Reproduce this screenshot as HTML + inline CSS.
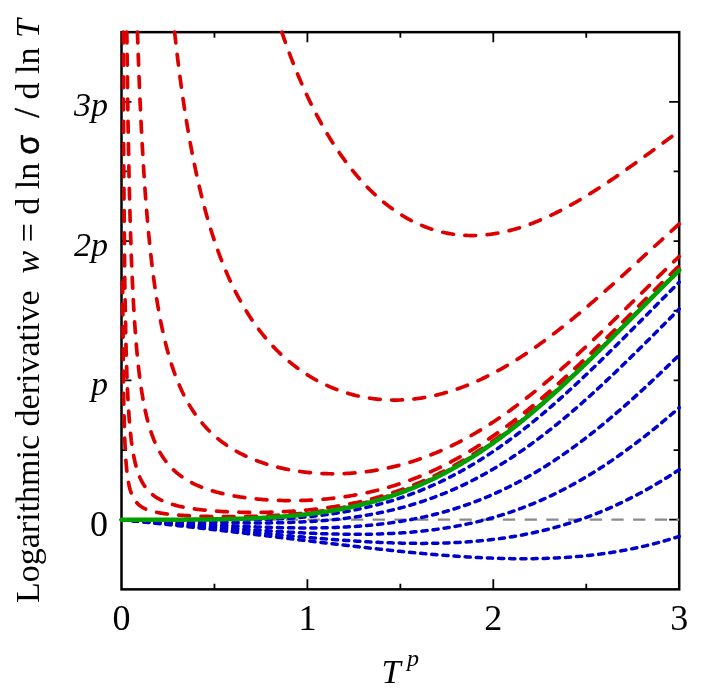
<!DOCTYPE html>
<html><head><meta charset="utf-8"><title>chart</title>
<style>
html,body{margin:0;padding:0;background:#fff;}
svg{display:block;}
text{font-family:"Liberation Serif",serif;fill:#000;}
</style></head><body>
<svg width="706" height="692" viewBox="0 0 706 692">
<rect x="0" y="0" width="706" height="692" fill="#fff"/>
<rect x="121.50" y="32.15" width="557.70" height="557.20" fill="none" stroke="#000" stroke-width="2.50"/>
<path d="M214.45,589.35 v-5.60 M214.45,32.15 v5.60 M307.40,589.35 v-10.00 M307.40,32.15 v10.00 M400.35,589.35 v-5.60 M400.35,32.15 v5.60 M493.30,589.35 v-10.00 M493.30,32.15 v10.00 M586.25,589.35 v-5.60 M586.25,32.15 v5.60 M121.50,519.70 h10.00 M679.20,519.70 h-10.00 M121.50,450.05 h5.60 M679.20,450.05 h-5.60 M121.50,380.40 h10.00 M679.20,380.40 h-5.60 M121.50,310.75 h5.60 M679.20,310.75 h-5.60 M121.50,241.10 h10.00 M679.20,241.10 h-5.60 M121.50,171.45 h5.60 M679.20,171.45 h-5.60 M121.50,101.80 h10.00 M679.20,101.80 h-10.00" stroke="#000" stroke-width="1.80" fill="none"/>
<path d="M121.50,519.70 H679.20" stroke="#8a8a8a" stroke-width="2.3" stroke-dasharray="12.3 9.4" stroke-dashoffset="9.2" fill="none"/>
<path d="M281.85,32.15 L282.71,34.66 L283.80,37.81 L284.89,40.92 L285.98,43.98 L287.07,47.00 L288.16,49.97 L289.25,52.90 L290.33,55.80 L291.42,58.65 L292.51,61.46 L293.60,64.23 L294.69,66.97 L295.78,69.67 L296.87,72.33 L297.96,74.96 L299.05,77.55 L300.14,80.10 L301.23,82.62 L302.32,85.11 L303.41,87.56 L304.50,89.98 L305.58,92.37 L306.67,94.73 L307.76,97.05 L308.85,99.35 L309.94,101.61 L311.03,103.85 L312.12,106.06 L313.21,108.23 L314.30,110.38 L315.39,112.50 L316.48,114.59 L317.57,116.66 L318.66,118.70 L319.74,120.71 L320.83,122.69 L321.92,124.65 L323.01,126.59 L324.10,128.50 L325.19,130.38 L326.28,132.24 L327.37,134.08 L328.46,135.89 L329.55,137.68 L330.64,139.45 L331.73,141.19 L332.82,142.91 L333.91,144.61 L334.99,146.29 L336.08,147.94 L337.17,149.58 L338.26,151.19 L339.35,152.78 L340.44,154.35 L341.53,155.90 L342.62,157.43 L343.71,158.94 L344.80,160.43 L345.89,161.90 L346.98,163.35 L348.07,164.78 L349.15,166.19 L350.24,167.59 L351.33,168.96 L352.42,170.32 L353.51,171.66 L354.60,172.98 L355.69,174.28 L356.78,175.57 L357.87,176.84 L358.96,178.09 L360.05,179.32 L361.14,180.54 L362.23,181.74 L363.32,182.92 L364.40,184.09 L365.49,185.24 L366.58,186.38 L367.67,187.50 L368.76,188.60 L369.85,189.69 L370.94,190.76 L372.03,191.81 L373.12,192.85 L374.21,193.88 L375.30,194.89 L376.39,195.89 L377.48,196.87 L378.56,197.84 L379.65,198.79 L380.74,199.72 L381.83,200.65 L382.92,201.56 L384.01,202.45 L385.10,203.33 L386.19,204.20 L387.28,205.05 L388.37,205.89 L389.46,206.72 L390.55,207.53 L391.64,208.33 L392.73,209.12 L393.81,209.89 L394.90,210.65 L395.99,211.39 L397.08,212.13 L398.17,212.85 L399.26,213.56 L400.35,214.25 L401.44,214.93 L402.53,215.60 L403.62,216.26 L404.71,216.91 L405.80,217.54 L406.89,218.16 L407.97,218.77 L409.06,219.37 L410.15,219.95 L411.24,220.53 L412.33,221.09 L413.42,221.64 L414.51,222.17 L415.60,222.70 L416.69,223.21 L417.78,223.72 L418.87,224.21 L419.96,224.69 L421.05,225.16 L422.14,225.62 L423.22,226.06 L424.31,226.50 L425.40,226.92 L426.49,227.34 L427.58,227.74 L428.67,228.13 L429.76,228.51 L430.85,228.88 L431.94,229.24 L433.03,229.59 L434.12,229.93 L435.21,230.26 L436.30,230.58 L437.38,230.89 L438.47,231.18 L439.56,231.47 L440.65,231.75 L441.74,232.01 L442.83,232.27 L443.92,232.51 L445.01,232.75 L446.10,232.98 L447.19,233.19 L448.28,233.40 L449.37,233.60 L450.46,233.78 L451.55,233.96 L452.63,234.13 L453.72,234.28 L454.81,234.43 L455.90,234.57 L456.99,234.70 L458.08,234.82 L459.17,234.93 L460.26,235.03 L461.35,235.12 L462.44,235.21 L463.53,235.28 L464.62,235.34 L465.71,235.40 L466.79,235.44 L467.88,235.48 L468.97,235.51 L470.06,235.53 L471.15,235.54 L472.24,235.54 L473.33,235.53 L474.42,235.52 L475.51,235.49 L476.60,235.46 L477.69,235.42 L478.78,235.36 L479.87,235.31 L480.96,235.24 L482.04,235.16 L483.13,235.08 L484.22,234.98 L485.31,234.88 L486.40,234.77 L487.49,234.66 L488.58,234.53 L489.67,234.40 L490.76,234.26 L491.85,234.11 L492.94,233.95 L494.03,233.78 L495.12,233.61 L496.20,233.43 L497.29,233.24 L498.38,233.04 L499.47,232.84 L500.56,232.63 L501.65,232.41 L502.74,232.18 L503.83,231.94 L504.92,231.70 L506.01,231.45 L507.10,231.20 L508.19,230.93 L509.28,230.66 L510.37,230.38 L511.45,230.10 L512.54,229.80 L513.63,229.50 L514.72,229.19 L515.81,228.88 L516.90,228.56 L517.99,228.23 L519.08,227.90 L520.17,227.55 L521.26,227.21 L522.35,226.85 L523.44,226.49 L524.53,226.12 L525.61,225.75 L526.70,225.36 L527.79,224.98 L528.88,224.58 L529.97,224.18 L531.06,223.77 L532.15,223.36 L533.24,222.94 L534.33,222.51 L535.42,222.08 L536.51,221.65 L537.60,221.20 L538.69,220.75 L539.78,220.30 L540.86,219.83 L541.95,219.37 L543.04,218.89 L544.13,218.41 L545.22,217.93 L546.31,217.44 L547.40,216.94 L548.49,216.44 L549.58,215.93 L550.67,215.42 L551.76,214.90 L552.85,214.38 L553.94,213.85 L555.02,213.32 L556.11,212.78 L557.20,212.24 L558.29,211.69 L559.38,211.13 L560.47,210.57 L561.56,210.01 L562.65,209.44 L563.74,208.87 L564.83,208.29 L565.92,207.71 L567.01,207.12 L568.10,206.53 L569.18,205.93 L570.27,205.33 L571.36,204.72 L572.45,204.11 L573.54,203.50 L574.63,202.88 L575.72,202.26 L576.81,201.63 L577.90,201.00 L578.99,200.36 L580.08,199.72 L581.17,199.08 L582.26,198.43 L583.35,197.78 L584.43,197.12 L585.52,196.46 L586.61,195.80 L587.70,195.14 L588.79,194.47 L589.88,193.79 L590.97,193.11 L592.06,192.43 L593.15,191.75 L594.24,191.06 L595.33,190.37 L596.42,189.68 L597.51,188.98 L598.59,188.28 L599.68,187.58 L600.77,186.87 L601.86,186.16 L602.95,185.45 L604.04,184.73 L605.13,184.01 L606.22,183.29 L607.31,182.57 L608.40,181.84 L609.49,181.11 L610.58,180.38 L611.67,179.65 L612.76,178.91 L613.84,178.17 L614.93,177.43 L616.02,176.68 L617.11,175.94 L618.20,175.19 L619.29,174.44 L620.38,173.68 L621.47,172.93 L622.56,172.17 L623.65,171.41 L624.74,170.65 L625.83,169.89 L626.92,169.12 L628.00,168.35 L629.09,167.58 L630.18,166.81 L631.27,166.04 L632.36,165.27 L633.45,164.49 L634.54,163.71 L635.63,162.94 L636.72,162.16 L637.81,161.37 L638.90,160.59 L639.99,159.81 L641.08,159.02 L642.17,158.23 L643.25,157.45 L644.34,156.66 L645.43,155.87 L646.52,155.08 L647.61,154.28 L648.70,153.49 L649.79,152.70 L650.88,151.90 L651.97,151.10 L653.06,150.31 L654.15,149.51 L655.24,148.71 L656.33,147.91 L657.41,147.11 L658.50,146.31 L659.59,145.51 L660.68,144.71 L661.77,143.91 L662.86,143.11 L663.95,142.30 L665.04,141.50 L666.13,140.70 L667.22,139.89 L668.31,139.09 L669.40,138.29 L670.49,137.48 L671.58,136.68 L672.66,135.87 L673.75,135.07 L674.84,134.26 L675.93,133.46 L677.02,132.65 L678.11,131.85 L679.20,131.05" stroke="#dd0000" stroke-width="3.70" stroke-linecap="round" stroke-linejoin="round" stroke-dasharray="10.8 11.5" fill="none"/>
<path d="M174.62,32.15 L174.87,34.48 L175.96,44.18 L177.05,53.50 L178.14,62.46 L179.23,71.08 L180.32,79.39 L181.41,87.39 L182.50,95.10 L183.59,102.55 L184.68,109.73 L185.77,116.67 L186.86,123.38 L187.94,129.87 L189.03,136.15 L190.12,142.23 L191.21,148.12 L192.30,153.83 L193.39,159.37 L194.48,164.73 L195.57,169.94 L196.66,175.00 L197.75,179.92 L198.84,184.69 L199.93,189.33 L201.02,193.84 L202.11,198.23 L203.19,202.51 L204.28,206.67 L205.37,210.72 L206.46,214.66 L207.55,218.51 L208.64,222.26 L209.73,225.91 L210.82,229.48 L211.91,232.96 L213.00,236.35 L214.09,239.66 L215.18,242.90 L216.27,246.06 L217.35,249.15 L218.44,252.17 L219.53,255.12 L220.62,258.00 L221.71,260.82 L222.80,263.58 L223.89,266.27 L224.98,268.91 L226.07,271.50 L227.16,274.03 L228.25,276.50 L229.34,278.93 L230.43,281.31 L231.52,283.63 L232.60,285.91 L233.69,288.15 L234.78,290.34 L235.87,292.49 L236.96,294.59 L238.05,296.65 L239.14,298.68 L240.23,300.67 L241.32,302.61 L242.41,304.53 L243.50,306.40 L244.59,308.24 L245.68,310.05 L246.76,311.82 L247.85,313.57 L248.94,315.28 L250.03,316.96 L251.12,318.61 L252.21,320.23 L253.30,321.82 L254.39,323.38 L255.48,324.92 L256.57,326.43 L257.66,327.91 L258.75,329.37 L259.84,330.80 L260.93,332.21 L262.01,333.59 L263.10,334.95 L264.19,336.29 L265.28,337.61 L266.37,338.90 L267.46,340.17 L268.55,341.42 L269.64,342.65 L270.73,343.86 L271.82,345.05 L272.91,346.22 L274.00,347.37 L275.09,348.51 L276.17,349.62 L277.26,350.72 L278.35,351.79 L279.44,352.85 L280.53,353.90 L281.62,354.92 L282.71,355.93 L283.80,356.93 L284.89,357.90 L285.98,358.86 L287.07,359.81 L288.16,360.74 L289.25,361.65 L290.33,362.55 L291.42,363.44 L292.51,364.31 L293.60,365.17 L294.69,366.01 L295.78,366.84 L296.87,367.66 L297.96,368.46 L299.05,369.25 L300.14,370.03 L301.23,370.79 L302.32,371.54 L303.41,372.28 L304.50,373.01 L305.58,373.72 L306.67,374.42 L307.76,375.11 L308.85,375.79 L309.94,376.46 L311.03,377.11 L312.12,377.76 L313.21,378.39 L314.30,379.01 L315.39,379.62 L316.48,380.22 L317.57,380.81 L318.66,381.39 L319.74,381.96 L320.83,382.52 L321.92,383.07 L323.01,383.60 L324.10,384.13 L325.19,384.65 L326.28,385.16 L327.37,385.66 L328.46,386.14 L329.55,386.62 L330.64,387.09 L331.73,387.55 L332.82,388.00 L333.91,388.45 L334.99,388.88 L336.08,389.30 L337.17,389.72 L338.26,390.12 L339.35,390.52 L340.44,390.90 L341.53,391.28 L342.62,391.65 L343.71,392.01 L344.80,392.37 L345.89,392.71 L346.98,393.05 L348.07,393.37 L349.15,393.69 L350.24,394.00 L351.33,394.31 L352.42,394.60 L353.51,394.89 L354.60,395.17 L355.69,395.44 L356.78,395.70 L357.87,395.95 L358.96,396.20 L360.05,396.43 L361.14,396.67 L362.23,396.89 L363.32,397.10 L364.40,397.31 L365.49,397.51 L366.58,397.70 L367.67,397.88 L368.76,398.06 L369.85,398.23 L370.94,398.39 L372.03,398.54 L373.12,398.69 L374.21,398.83 L375.30,398.96 L376.39,399.08 L377.48,399.20 L378.56,399.31 L379.65,399.41 L380.74,399.50 L381.83,399.59 L382.92,399.67 L384.01,399.74 L385.10,399.81 L386.19,399.87 L387.28,399.92 L388.37,399.96 L389.46,400.00 L390.55,400.03 L391.64,400.05 L392.73,400.07 L393.81,400.08 L394.90,400.08 L395.99,400.08 L397.08,400.06 L398.17,400.04 L399.26,400.02 L400.35,399.98 L401.44,399.94 L402.53,399.90 L403.62,399.84 L404.71,399.78 L405.80,399.72 L406.89,399.64 L407.97,399.56 L409.06,399.47 L410.15,399.38 L411.24,399.28 L412.33,399.17 L413.42,399.05 L414.51,398.93 L415.60,398.80 L416.69,398.67 L417.78,398.53 L418.87,398.38 L419.96,398.22 L421.05,398.06 L422.14,397.89 L423.22,397.72 L424.31,397.53 L425.40,397.35 L426.49,397.15 L427.58,396.95 L428.67,396.74 L429.76,396.53 L430.85,396.31 L431.94,396.08 L433.03,395.84 L434.12,395.60 L435.21,395.36 L436.30,395.10 L437.38,394.84 L438.47,394.58 L439.56,394.30 L440.65,394.02 L441.74,393.74 L442.83,393.45 L443.92,393.15 L445.01,392.84 L446.10,392.53 L447.19,392.22 L448.28,391.89 L449.37,391.56 L450.46,391.23 L451.55,390.88 L452.63,390.53 L453.72,390.18 L454.81,389.82 L455.90,389.45 L456.99,389.08 L458.08,388.70 L459.17,388.31 L460.26,387.92 L461.35,387.52 L462.44,387.12 L463.53,386.70 L464.62,386.29 L465.71,385.87 L466.79,385.44 L467.88,385.00 L468.97,384.56 L470.06,384.11 L471.15,383.66 L472.24,383.20 L473.33,382.74 L474.42,382.27 L475.51,381.79 L476.60,381.31 L477.69,380.82 L478.78,380.33 L479.87,379.83 L480.96,379.32 L482.04,378.81 L483.13,378.29 L484.22,377.77 L485.31,377.24 L486.40,376.71 L487.49,376.17 L488.58,375.62 L489.67,375.07 L490.76,374.52 L491.85,373.95 L492.94,373.39 L494.03,372.81 L495.12,372.23 L496.20,371.65 L497.29,371.06 L498.38,370.46 L499.47,369.86 L500.56,369.26 L501.65,368.65 L502.74,368.03 L503.83,367.41 L504.92,366.78 L506.01,366.15 L507.10,365.51 L508.19,364.87 L509.28,364.22 L510.37,363.57 L511.45,362.91 L512.54,362.25 L513.63,361.58 L514.72,360.91 L515.81,360.23 L516.90,359.54 L517.99,358.86 L519.08,358.16 L520.17,357.47 L521.26,356.76 L522.35,356.06 L523.44,355.34 L524.53,354.63 L525.61,353.91 L526.70,353.18 L527.79,352.45 L528.88,351.71 L529.97,350.97 L531.06,350.23 L532.15,349.48 L533.24,348.73 L534.33,347.97 L535.42,347.21 L536.51,346.44 L537.60,345.67 L538.69,344.90 L539.78,344.12 L540.86,343.33 L541.95,342.55 L543.04,341.75 L544.13,340.96 L545.22,340.16 L546.31,339.36 L547.40,338.55 L548.49,337.74 L549.58,336.92 L550.67,336.10 L551.76,335.28 L552.85,334.45 L553.94,333.62 L555.02,332.79 L556.11,331.95 L557.20,331.10 L558.29,330.26 L559.38,329.41 L560.47,328.56 L561.56,327.70 L562.65,326.84 L563.74,325.98 L564.83,325.11 L565.92,324.24 L567.01,323.37 L568.10,322.50 L569.18,321.62 L570.27,320.74 L571.36,319.85 L572.45,318.96 L573.54,318.07 L574.63,317.18 L575.72,316.28 L576.81,315.38 L577.90,314.48 L578.99,313.57 L580.08,312.66 L581.17,311.75 L582.26,310.84 L583.35,309.92 L584.43,309.00 L585.52,308.08 L586.61,307.15 L587.70,306.23 L588.79,305.30 L589.88,304.37 L590.97,303.43 L592.06,302.50 L593.15,301.56 L594.24,300.62 L595.33,299.68 L596.42,298.73 L597.51,297.79 L598.59,296.84 L599.68,295.89 L600.77,294.93 L601.86,293.98 L602.95,293.02 L604.04,292.06 L605.13,291.10 L606.22,290.14 L607.31,289.18 L608.40,288.21 L609.49,287.25 L610.58,286.28 L611.67,285.31 L612.76,284.34 L613.84,283.36 L614.93,282.39 L616.02,281.41 L617.11,280.44 L618.20,279.46 L619.29,278.48 L620.38,277.50 L621.47,276.52 L622.56,275.53 L623.65,274.55 L624.74,273.57 L625.83,272.58 L626.92,271.59 L628.00,270.61 L629.09,269.62 L630.18,268.63 L631.27,267.64 L632.36,266.65 L633.45,265.66 L634.54,264.66 L635.63,263.67 L636.72,262.68 L637.81,261.69 L638.90,260.69 L639.99,259.70 L641.08,258.70 L642.17,257.71 L643.25,256.71 L644.34,255.71 L645.43,254.72 L646.52,253.72 L647.61,252.73 L648.70,251.73 L649.79,250.73 L650.88,249.73 L651.97,248.74 L653.06,247.74 L654.15,246.74 L655.24,245.75 L656.33,244.75 L657.41,243.75 L658.50,242.76 L659.59,241.76 L660.68,240.77 L661.77,239.77 L662.86,238.78 L663.95,237.78 L665.04,236.79 L666.13,235.79 L667.22,234.80 L668.31,233.81 L669.40,232.81 L670.49,231.82 L671.58,230.83 L672.66,229.84 L673.75,228.85 L674.84,227.86 L675.93,226.87 L677.02,225.88 L678.11,224.90 L679.20,223.91" stroke="#dd0000" stroke-width="3.70" stroke-linecap="round" stroke-linejoin="round" stroke-dasharray="10.8 11.5" fill="none"/>
<path d="M137.45,32.15 L137.84,44.22 L138.93,73.94 L140.02,100.16 L141.11,123.47 L142.20,144.32 L143.29,163.09 L144.37,180.07 L145.46,195.51 L146.55,209.60 L147.64,222.52 L148.73,234.41 L149.82,245.38 L150.91,255.54 L152.00,264.98 L153.09,273.76 L154.18,281.96 L155.27,289.62 L156.36,296.81 L157.45,303.57 L158.53,309.92 L159.62,315.91 L160.71,321.57 L161.80,326.93 L162.89,332.00 L163.98,336.81 L165.07,341.38 L166.16,345.73 L167.25,349.87 L168.34,353.81 L169.43,357.58 L170.52,361.18 L171.61,364.62 L172.70,367.92 L173.78,371.08 L174.87,374.11 L175.96,377.02 L177.05,379.81 L178.14,382.50 L179.23,385.08 L180.32,387.57 L181.41,389.96 L182.50,392.28 L183.59,394.51 L184.68,396.66 L185.77,398.74 L186.86,400.75 L187.94,402.69 L189.03,404.57 L190.12,406.39 L191.21,408.15 L192.30,409.86 L193.39,411.51 L194.48,413.12 L195.57,414.67 L196.66,416.19 L197.75,417.65 L198.84,419.08 L199.93,420.47 L201.02,421.81 L202.11,423.12 L203.19,424.40 L204.28,425.64 L205.37,426.84 L206.46,428.02 L207.55,429.16 L208.64,430.28 L209.73,431.37 L210.82,432.43 L211.91,433.46 L213.00,434.47 L214.09,435.45 L215.18,436.41 L216.27,437.35 L217.35,438.26 L218.44,439.15 L219.53,440.02 L220.62,440.87 L221.71,441.71 L222.80,442.52 L223.89,443.31 L224.98,444.09 L226.07,444.85 L227.16,445.59 L228.25,446.32 L229.34,447.03 L230.43,447.72 L231.52,448.40 L232.60,449.07 L233.69,449.72 L234.78,450.35 L235.87,450.98 L236.96,451.59 L238.05,452.18 L239.14,452.77 L240.23,453.34 L241.32,453.90 L242.41,454.45 L243.50,454.99 L244.59,455.51 L245.68,456.03 L246.76,456.53 L247.85,457.03 L248.94,457.51 L250.03,457.99 L251.12,458.45 L252.21,458.91 L253.30,459.35 L254.39,459.79 L255.48,460.22 L256.57,460.63 L257.66,461.04 L258.75,461.45 L259.84,461.84 L260.93,462.22 L262.01,462.60 L263.10,462.97 L264.19,463.33 L265.28,463.68 L266.37,464.03 L267.46,464.37 L268.55,464.70 L269.64,465.02 L270.73,465.34 L271.82,465.65 L272.91,465.95 L274.00,466.24 L275.09,466.53 L276.17,466.82 L277.26,467.09 L278.35,467.36 L279.44,467.62 L280.53,467.88 L281.62,468.13 L282.71,468.38 L283.80,468.61 L284.89,468.85 L285.98,469.07 L287.07,469.29 L288.16,469.51 L289.25,469.72 L290.33,469.92 L291.42,470.12 L292.51,470.31 L293.60,470.50 L294.69,470.68 L295.78,470.85 L296.87,471.02 L297.96,471.19 L299.05,471.35 L300.14,471.50 L301.23,471.65 L302.32,471.79 L303.41,471.93 L304.50,472.06 L305.58,472.19 L306.67,472.31 L307.76,472.43 L308.85,472.54 L309.94,472.65 L311.03,472.75 L312.12,472.85 L313.21,472.95 L314.30,473.03 L315.39,473.12 L316.48,473.19 L317.57,473.27 L318.66,473.33 L319.74,473.40 L320.83,473.46 L321.92,473.51 L323.01,473.56 L324.10,473.60 L325.19,473.64 L326.28,473.68 L327.37,473.71 L328.46,473.73 L329.55,473.75 L330.64,473.77 L331.73,473.78 L332.82,473.79 L333.91,473.79 L334.99,473.78 L336.08,473.78 L337.17,473.76 L338.26,473.75 L339.35,473.73 L340.44,473.70 L341.53,473.67 L342.62,473.63 L343.71,473.59 L344.80,473.55 L345.89,473.50 L346.98,473.44 L348.07,473.38 L349.15,473.32 L350.24,473.25 L351.33,473.18 L352.42,473.10 L353.51,473.02 L354.60,472.93 L355.69,472.84 L356.78,472.74 L357.87,472.64 L358.96,472.53 L360.05,472.42 L361.14,472.31 L362.23,472.19 L363.32,472.06 L364.40,471.94 L365.49,471.80 L366.58,471.66 L367.67,471.52 L368.76,471.37 L369.85,471.22 L370.94,471.06 L372.03,470.90 L373.12,470.73 L374.21,470.56 L375.30,470.38 L376.39,470.20 L377.48,470.02 L378.56,469.82 L379.65,469.63 L380.74,469.43 L381.83,469.22 L382.92,469.01 L384.01,468.80 L385.10,468.58 L386.19,468.35 L387.28,468.12 L388.37,467.89 L389.46,467.65 L390.55,467.41 L391.64,467.16 L392.73,466.90 L393.81,466.65 L394.90,466.38 L395.99,466.11 L397.08,465.84 L398.17,465.56 L399.26,465.28 L400.35,464.99 L401.44,464.70 L402.53,464.40 L403.62,464.10 L404.71,463.79 L405.80,463.48 L406.89,463.16 L407.97,462.84 L409.06,462.51 L410.15,462.18 L411.24,461.84 L412.33,461.50 L413.42,461.15 L414.51,460.80 L415.60,460.44 L416.69,460.08 L417.78,459.71 L418.87,459.34 L419.96,458.96 L421.05,458.58 L422.14,458.19 L423.22,457.79 L424.31,457.40 L425.40,456.99 L426.49,456.59 L427.58,456.17 L428.67,455.76 L429.76,455.33 L430.85,454.90 L431.94,454.47 L433.03,454.03 L434.12,453.59 L435.21,453.14 L436.30,452.69 L437.38,452.23 L438.47,451.76 L439.56,451.30 L440.65,450.82 L441.74,450.34 L442.83,449.86 L443.92,449.37 L445.01,448.88 L446.10,448.38 L447.19,447.87 L448.28,447.36 L449.37,446.85 L450.46,446.33 L451.55,445.81 L452.63,445.28 L453.72,444.74 L454.81,444.20 L455.90,443.66 L456.99,443.11 L458.08,442.55 L459.17,441.99 L460.26,441.43 L461.35,440.86 L462.44,440.28 L463.53,439.70 L464.62,439.12 L465.71,438.53 L466.79,437.93 L467.88,437.33 L468.97,436.73 L470.06,436.12 L471.15,435.50 L472.24,434.89 L473.33,434.26 L474.42,433.63 L475.51,433.00 L476.60,432.36 L477.69,431.71 L478.78,431.06 L479.87,430.41 L480.96,429.75 L482.04,429.09 L483.13,428.42 L484.22,427.75 L485.31,427.07 L486.40,426.39 L487.49,425.70 L488.58,425.00 L489.67,424.31 L490.76,423.61 L491.85,422.90 L492.94,422.19 L494.03,421.47 L495.12,420.75 L496.20,420.03 L497.29,419.30 L498.38,418.56 L499.47,417.82 L500.56,417.08 L501.65,416.33 L502.74,415.58 L503.83,414.82 L504.92,414.06 L506.01,413.29 L507.10,412.52 L508.19,411.75 L509.28,410.97 L510.37,410.18 L511.45,409.40 L512.54,408.60 L513.63,407.81 L514.72,407.00 L515.81,406.20 L516.90,405.39 L517.99,404.58 L519.08,403.76 L520.17,402.94 L521.26,402.11 L522.35,401.28 L523.44,400.44 L524.53,399.61 L525.61,398.76 L526.70,397.92 L527.79,397.07 L528.88,396.21 L529.97,395.35 L531.06,394.49 L532.15,393.62 L533.24,392.75 L534.33,391.88 L535.42,391.00 L536.51,390.12 L537.60,389.24 L538.69,388.35 L539.78,387.46 L540.86,386.56 L541.95,385.66 L543.04,384.76 L544.13,383.85 L545.22,382.94 L546.31,382.03 L547.40,381.11 L548.49,380.19 L549.58,379.27 L550.67,378.34 L551.76,377.41 L552.85,376.47 L553.94,375.54 L555.02,374.60 L556.11,373.66 L557.20,372.71 L558.29,371.76 L559.38,370.81 L560.47,369.85 L561.56,368.89 L562.65,367.93 L563.74,366.97 L564.83,366.00 L565.92,365.03 L567.01,364.06 L568.10,363.09 L569.18,362.11 L570.27,361.13 L571.36,360.14 L572.45,359.16 L573.54,358.17 L574.63,357.18 L575.72,356.19 L576.81,355.19 L577.90,354.19 L578.99,353.19 L580.08,352.19 L581.17,351.19 L582.26,350.18 L583.35,349.17 L584.43,348.16 L585.52,347.14 L586.61,346.13 L587.70,345.11 L588.79,344.09 L589.88,343.07 L590.97,342.05 L592.06,341.02 L593.15,339.99 L594.24,338.96 L595.33,337.93 L596.42,336.90 L597.51,335.87 L598.59,334.83 L599.68,333.79 L600.77,332.75 L601.86,331.71 L602.95,330.67 L604.04,329.63 L605.13,328.58 L606.22,327.54 L607.31,326.49 L608.40,325.44 L609.49,324.39 L610.58,323.34 L611.67,322.29 L612.76,321.24 L613.84,320.18 L614.93,319.13 L616.02,318.07 L617.11,317.01 L618.20,315.95 L619.29,314.89 L620.38,313.83 L621.47,312.77 L622.56,311.71 L623.65,310.65 L624.74,309.59 L625.83,308.52 L626.92,307.46 L628.00,306.39 L629.09,305.33 L630.18,304.26 L631.27,303.20 L632.36,302.13 L633.45,301.06 L634.54,300.00 L635.63,298.93 L636.72,297.86 L637.81,296.79 L638.90,295.73 L639.99,294.66 L641.08,293.59 L642.17,292.52 L643.25,291.45 L644.34,290.38 L645.43,289.32 L646.52,288.25 L647.61,287.18 L648.70,286.11 L649.79,285.04 L650.88,283.98 L651.97,282.91 L653.06,281.84 L654.15,280.78 L655.24,279.71 L656.33,278.64 L657.41,277.58 L658.50,276.51 L659.59,275.45 L660.68,274.39 L661.77,273.32 L662.86,272.26 L663.95,271.20 L665.04,270.14 L666.13,269.08 L667.22,268.02 L668.31,266.96 L669.40,265.90 L670.49,264.84 L671.58,263.78 L672.66,262.73 L673.75,261.67 L674.84,260.62 L675.93,259.57 L677.02,258.52 L678.11,257.46 L679.20,256.42" stroke="#dd0000" stroke-width="3.70" stroke-linecap="round" stroke-linejoin="round" stroke-dasharray="10.8 11.5" fill="none"/>
<path d="M126.84,32.15 L126.95,44.22 L128.04,123.47 L129.12,180.07 L130.21,222.53 L131.30,255.55 L132.39,281.96 L133.48,303.57 L134.57,321.58 L135.66,336.82 L136.75,349.89 L137.84,361.21 L138.93,371.11 L140.02,379.85 L141.11,387.62 L142.20,394.57 L143.29,400.83 L144.37,406.49 L145.46,411.64 L146.55,416.33 L147.64,420.64 L148.73,424.60 L149.82,428.26 L150.91,431.65 L152.00,434.79 L153.09,437.72 L154.18,440.45 L155.27,443.00 L156.36,445.40 L157.45,447.65 L158.53,449.77 L159.62,451.76 L160.71,453.65 L161.80,455.43 L162.89,457.12 L163.98,458.73 L165.07,460.25 L166.16,461.70 L167.25,463.08 L168.34,464.39 L169.43,465.64 L170.52,466.84 L171.61,467.99 L172.70,469.09 L173.78,470.14 L174.87,471.14 L175.96,472.11 L177.05,473.04 L178.14,473.93 L179.23,474.79 L180.32,475.62 L181.41,476.41 L182.50,477.18 L183.59,477.92 L184.68,478.64 L185.77,479.33 L186.86,479.99 L187.94,480.64 L189.03,481.26 L190.12,481.86 L191.21,482.44 L192.30,483.01 L193.39,483.55 L194.48,484.08 L195.57,484.60 L196.66,485.10 L197.75,485.58 L198.84,486.05 L199.93,486.50 L201.02,486.95 L202.11,487.38 L203.19,487.79 L204.28,488.20 L205.37,488.59 L206.46,488.98 L207.55,489.35 L208.64,489.71 L209.73,490.07 L210.82,490.41 L211.91,490.75 L213.00,491.07 L214.09,491.39 L215.18,491.70 L216.27,492.00 L217.35,492.29 L218.44,492.58 L219.53,492.85 L220.62,493.12 L221.71,493.39 L222.80,493.65 L223.89,493.90 L224.98,494.14 L226.07,494.38 L227.16,494.61 L228.25,494.84 L229.34,495.06 L230.43,495.27 L231.52,495.48 L232.60,495.68 L233.69,495.88 L234.78,496.07 L235.87,496.26 L236.96,496.44 L238.05,496.62 L239.14,496.80 L240.23,496.96 L241.32,497.13 L242.41,497.29 L243.50,497.44 L244.59,497.59 L245.68,497.74 L246.76,497.88 L247.85,498.02 L248.94,498.15 L250.03,498.28 L251.12,498.41 L252.21,498.53 L253.30,498.65 L254.39,498.76 L255.48,498.87 L256.57,498.98 L257.66,499.08 L258.75,499.18 L259.84,499.28 L260.93,499.37 L262.01,499.46 L263.10,499.54 L264.19,499.62 L265.28,499.70 L266.37,499.78 L267.46,499.85 L268.55,499.92 L269.64,499.98 L270.73,500.04 L271.82,500.10 L272.91,500.16 L274.00,500.21 L275.09,500.26 L276.17,500.30 L277.26,500.34 L278.35,500.38 L279.44,500.42 L280.53,500.45 L281.62,500.48 L282.71,500.50 L283.80,500.53 L284.89,500.55 L285.98,500.56 L287.07,500.58 L288.16,500.59 L289.25,500.59 L290.33,500.60 L291.42,500.60 L292.51,500.60 L293.60,500.59 L294.69,500.58 L295.78,500.57 L296.87,500.56 L297.96,500.54 L299.05,500.52 L300.14,500.49 L301.23,500.47 L302.32,500.44 L303.41,500.40 L304.50,500.37 L305.58,500.33 L306.67,500.28 L307.76,500.24 L308.85,500.19 L309.94,500.14 L311.03,500.08 L312.12,500.02 L313.21,499.96 L314.30,499.90 L315.39,499.83 L316.48,499.76 L317.57,499.68 L318.66,499.60 L319.74,499.52 L320.83,499.44 L321.92,499.35 L323.01,499.26 L324.10,499.17 L325.19,499.07 L326.28,498.97 L327.37,498.87 L328.46,498.76 L329.55,498.65 L330.64,498.53 L331.73,498.42 L332.82,498.30 L333.91,498.17 L334.99,498.04 L336.08,497.91 L337.17,497.78 L338.26,497.64 L339.35,497.50 L340.44,497.35 L341.53,497.21 L342.62,497.05 L343.71,496.90 L344.80,496.74 L345.89,496.58 L346.98,496.41 L348.07,496.24 L349.15,496.07 L350.24,495.89 L351.33,495.71 L352.42,495.53 L353.51,495.34 L354.60,495.15 L355.69,494.95 L356.78,494.75 L357.87,494.55 L358.96,494.35 L360.05,494.14 L361.14,493.92 L362.23,493.70 L363.32,493.48 L364.40,493.26 L365.49,493.03 L366.58,492.80 L367.67,492.56 L368.76,492.32 L369.85,492.07 L370.94,491.82 L372.03,491.57 L373.12,491.31 L374.21,491.05 L375.30,490.79 L376.39,490.52 L377.48,490.25 L378.56,489.97 L379.65,489.69 L380.74,489.41 L381.83,489.12 L382.92,488.82 L384.01,488.53 L385.10,488.23 L386.19,487.92 L387.28,487.61 L388.37,487.30 L389.46,486.98 L390.55,486.66 L391.64,486.33 L392.73,486.00 L393.81,485.66 L394.90,485.33 L395.99,484.98 L397.08,484.63 L398.17,484.28 L399.26,483.93 L400.35,483.56 L401.44,483.20 L402.53,482.83 L403.62,482.46 L404.71,482.08 L405.80,481.69 L406.89,481.31 L407.97,480.92 L409.06,480.52 L410.15,480.12 L411.24,479.71 L412.33,479.30 L413.42,478.89 L414.51,478.47 L415.60,478.05 L416.69,477.62 L417.78,477.19 L418.87,476.75 L419.96,476.31 L421.05,475.87 L422.14,475.41 L423.22,474.96 L424.31,474.50 L425.40,474.04 L426.49,473.57 L427.58,473.09 L428.67,472.62 L429.76,472.13 L430.85,471.65 L431.94,471.15 L433.03,470.66 L434.12,470.16 L435.21,469.65 L436.30,469.14 L437.38,468.62 L438.47,468.10 L439.56,467.58 L440.65,467.05 L441.74,466.52 L442.83,465.98 L443.92,465.43 L445.01,464.89 L446.10,464.33 L447.19,463.78 L448.28,463.21 L449.37,462.65 L450.46,462.07 L451.55,461.50 L452.63,460.92 L453.72,460.33 L454.81,459.74 L455.90,459.15 L456.99,458.55 L458.08,457.94 L459.17,457.33 L460.26,456.72 L461.35,456.10 L462.44,455.47 L463.53,454.85 L464.62,454.21 L465.71,453.58 L466.79,452.93 L467.88,452.29 L468.97,451.63 L470.06,450.98 L471.15,450.32 L472.24,449.65 L473.33,448.98 L474.42,448.31 L475.51,447.63 L476.60,446.94 L477.69,446.25 L478.78,445.56 L479.87,444.86 L480.96,444.16 L482.04,443.45 L483.13,442.74 L484.22,442.02 L485.31,441.30 L486.40,440.58 L487.49,439.85 L488.58,439.11 L489.67,438.38 L490.76,437.63 L491.85,436.88 L492.94,436.13 L494.03,435.37 L495.12,434.61 L496.20,433.85 L497.29,433.08 L498.38,432.30 L499.47,431.53 L500.56,430.74 L501.65,429.95 L502.74,429.16 L503.83,428.37 L504.92,427.57 L506.01,426.76 L507.10,425.95 L508.19,425.14 L509.28,424.32 L510.37,423.50 L511.45,422.68 L512.54,421.85 L513.63,421.01 L514.72,420.18 L515.81,419.33 L516.90,418.49 L517.99,417.64 L519.08,416.78 L520.17,415.93 L521.26,415.06 L522.35,414.20 L523.44,413.33 L524.53,412.46 L525.61,411.58 L526.70,410.70 L527.79,409.81 L528.88,408.92 L529.97,408.03 L531.06,407.14 L532.15,406.24 L533.24,405.33 L534.33,404.43 L535.42,403.52 L536.51,402.60 L537.60,401.68 L538.69,400.76 L539.78,399.84 L540.86,398.91 L541.95,397.98 L543.04,397.04 L544.13,396.10 L545.22,395.16 L546.31,394.22 L547.40,393.27 L548.49,392.32 L549.58,391.36 L550.67,390.41 L551.76,389.45 L552.85,388.48 L553.94,387.51 L555.02,386.55 L556.11,385.57 L557.20,384.60 L558.29,383.62 L559.38,382.64 L560.47,381.65 L561.56,380.66 L562.65,379.67 L563.74,378.68 L564.83,377.69 L565.92,376.69 L567.01,375.69 L568.10,374.68 L569.18,373.68 L570.27,372.67 L571.36,371.66 L572.45,370.64 L573.54,369.63 L574.63,368.61 L575.72,367.59 L576.81,366.57 L577.90,365.54 L578.99,364.51 L580.08,363.48 L581.17,362.45 L582.26,361.42 L583.35,360.38 L584.43,359.35 L585.52,358.31 L586.61,357.26 L587.70,356.22 L588.79,355.17 L589.88,354.13 L590.97,353.08 L592.06,352.03 L593.15,350.97 L594.24,349.92 L595.33,348.86 L596.42,347.81 L597.51,346.75 L598.59,345.69 L599.68,344.62 L600.77,343.56 L601.86,342.50 L602.95,341.43 L604.04,340.36 L605.13,339.29 L606.22,338.22 L607.31,337.15 L608.40,336.08 L609.49,335.01 L610.58,333.93 L611.67,332.85 L612.76,331.78 L613.84,330.70 L614.93,329.62 L616.02,328.54 L617.11,327.46 L618.20,326.38 L619.29,325.30 L620.38,324.22 L621.47,323.13 L622.56,322.05 L623.65,320.96 L624.74,319.88 L625.83,318.79 L626.92,317.71 L628.00,316.62 L629.09,315.53 L630.18,314.45 L631.27,313.36 L632.36,312.27 L633.45,311.18 L634.54,310.09 L635.63,309.00 L636.72,307.91 L637.81,306.83 L638.90,305.74 L639.99,304.65 L641.08,303.56 L642.17,302.47 L643.25,301.38 L644.34,300.29 L645.43,299.20 L646.52,298.11 L647.61,297.02 L648.70,295.94 L649.79,294.85 L650.88,293.76 L651.97,292.67 L653.06,291.59 L654.15,290.50 L655.24,289.41 L656.33,288.33 L657.41,287.24 L658.50,286.16 L659.59,285.07 L660.68,283.99 L661.77,282.91 L662.86,281.83 L663.95,280.75 L665.04,279.66 L666.13,278.59 L667.22,277.51 L668.31,276.43 L669.40,275.35 L670.49,274.28 L671.58,273.20 L672.66,272.13 L673.75,271.05 L674.84,269.98 L675.93,268.91 L677.02,267.84 L678.11,266.77 L679.20,265.70" stroke="#dd0000" stroke-width="3.70" stroke-linecap="round" stroke-linejoin="round" stroke-dasharray="10.8 11.5" fill="none"/>
<path d="M123.28,32.15 L123.68,163.09 L124.77,281.96 L125.86,341.40 L126.95,377.06 L128.04,400.83 L129.12,417.81 L130.21,430.55 L131.30,440.45 L132.39,448.38 L133.48,454.86 L134.57,460.27 L135.66,464.84 L136.75,468.76 L137.84,472.15 L138.93,475.12 L140.02,477.75 L141.11,480.08 L142.20,482.16 L143.29,484.04 L144.37,485.74 L145.46,487.28 L146.55,488.69 L147.64,489.98 L148.73,491.17 L149.82,492.27 L150.91,493.28 L152.00,494.22 L153.09,495.10 L154.18,495.92 L155.27,496.69 L156.36,497.41 L157.45,498.08 L158.53,498.71 L159.62,499.31 L160.71,499.88 L161.80,500.41 L162.89,500.92 L163.98,501.40 L165.07,501.85 L166.16,502.29 L167.25,502.70 L168.34,503.09 L169.43,503.47 L170.52,503.82 L171.61,504.17 L172.70,504.49 L173.78,504.81 L174.87,505.11 L175.96,505.39 L177.05,505.67 L178.14,505.94 L179.23,506.19 L180.32,506.44 L181.41,506.67 L182.50,506.90 L183.59,507.12 L184.68,507.33 L185.77,507.53 L186.86,507.73 L187.94,507.92 L189.03,508.10 L190.12,508.28 L191.21,508.45 L192.30,508.61 L193.39,508.77 L194.48,508.92 L195.57,509.07 L196.66,509.21 L197.75,509.35 L198.84,509.49 L199.93,509.62 L201.02,509.74 L202.11,509.87 L203.19,509.98 L204.28,510.10 L205.37,510.21 L206.46,510.31 L207.55,510.42 L208.64,510.52 L209.73,510.61 L210.82,510.71 L211.91,510.80 L213.00,510.88 L214.09,510.97 L215.18,511.05 L216.27,511.13 L217.35,511.20 L218.44,511.27 L219.53,511.34 L220.62,511.41 L221.71,511.48 L222.80,511.54 L223.89,511.60 L224.98,511.66 L226.07,511.71 L227.16,511.77 L228.25,511.82 L229.34,511.87 L230.43,511.91 L231.52,511.96 L232.60,512.00 L233.69,512.04 L234.78,512.07 L235.87,512.11 L236.96,512.14 L238.05,512.17 L239.14,512.20 L240.23,512.23 L241.32,512.26 L242.41,512.28 L243.50,512.30 L244.59,512.32 L245.68,512.34 L246.76,512.35 L247.85,512.36 L248.94,512.38 L250.03,512.39 L251.12,512.39 L252.21,512.40 L253.30,512.40 L254.39,512.40 L255.48,512.40 L256.57,512.40 L257.66,512.40 L258.75,512.39 L259.84,512.38 L260.93,512.37 L262.01,512.36 L263.10,512.34 L264.19,512.33 L265.28,512.31 L266.37,512.29 L267.46,512.27 L268.55,512.24 L269.64,512.22 L270.73,512.19 L271.82,512.16 L272.91,512.13 L274.00,512.09 L275.09,512.06 L276.17,512.02 L277.26,511.98 L278.35,511.94 L279.44,511.89 L280.53,511.85 L281.62,511.80 L282.71,511.75 L283.80,511.69 L284.89,511.64 L285.98,511.58 L287.07,511.52 L288.16,511.46 L289.25,511.40 L290.33,511.33 L291.42,511.27 L292.51,511.20 L293.60,511.12 L294.69,511.05 L295.78,510.97 L296.87,510.89 L297.96,510.81 L299.05,510.73 L300.14,510.64 L301.23,510.55 L302.32,510.46 L303.41,510.37 L304.50,510.27 L305.58,510.17 L306.67,510.07 L307.76,509.97 L308.85,509.86 L309.94,509.76 L311.03,509.65 L312.12,509.53 L313.21,509.42 L314.30,509.30 L315.39,509.18 L316.48,509.05 L317.57,508.93 L318.66,508.80 L319.74,508.67 L320.83,508.53 L321.92,508.40 L323.01,508.26 L324.10,508.11 L325.19,507.97 L326.28,507.82 L327.37,507.67 L328.46,507.52 L329.55,507.36 L330.64,507.20 L331.73,507.04 L332.82,506.87 L333.91,506.71 L334.99,506.53 L336.08,506.36 L337.17,506.18 L338.26,506.00 L339.35,505.82 L340.44,505.63 L341.53,505.44 L342.62,505.25 L343.71,505.06 L344.80,504.86 L345.89,504.66 L346.98,504.45 L348.07,504.24 L349.15,504.03 L350.24,503.82 L351.33,503.60 L352.42,503.38 L353.51,503.15 L354.60,502.93 L355.69,502.69 L356.78,502.46 L357.87,502.22 L358.96,501.98 L360.05,501.73 L361.14,501.49 L362.23,501.23 L363.32,500.98 L364.40,500.72 L365.49,500.46 L366.58,500.19 L367.67,499.92 L368.76,499.65 L369.85,499.37 L370.94,499.09 L372.03,498.81 L373.12,498.52 L374.21,498.23 L375.30,497.93 L376.39,497.63 L377.48,497.33 L378.56,497.02 L379.65,496.71 L380.74,496.40 L381.83,496.08 L382.92,495.76 L384.01,495.43 L385.10,495.10 L386.19,494.77 L387.28,494.43 L388.37,494.09 L389.46,493.74 L390.55,493.39 L391.64,493.04 L392.73,492.68 L393.81,492.32 L394.90,491.96 L395.99,491.59 L397.08,491.21 L398.17,490.83 L399.26,490.45 L400.35,490.06 L401.44,489.67 L402.53,489.28 L403.62,488.88 L404.71,488.48 L405.80,488.07 L406.89,487.66 L407.97,487.24 L409.06,486.82 L410.15,486.40 L411.24,485.97 L412.33,485.54 L413.42,485.10 L414.51,484.66 L415.60,484.21 L416.69,483.76 L417.78,483.31 L418.87,482.85 L419.96,482.38 L421.05,481.92 L422.14,481.44 L423.22,480.97 L424.31,480.49 L425.40,480.00 L426.49,479.51 L427.58,479.02 L428.67,478.52 L429.76,478.01 L430.85,477.51 L431.94,476.99 L433.03,476.48 L434.12,475.95 L435.21,475.43 L436.30,474.90 L437.38,474.36 L438.47,473.82 L439.56,473.28 L440.65,472.73 L441.74,472.18 L442.83,471.62 L443.92,471.06 L445.01,470.49 L446.10,469.92 L447.19,469.34 L448.28,468.76 L449.37,468.17 L450.46,467.58 L451.55,466.99 L452.63,466.39 L453.72,465.79 L454.81,465.18 L455.90,464.57 L456.99,463.95 L458.08,463.33 L459.17,462.70 L460.26,462.07 L461.35,461.43 L462.44,460.79 L463.53,460.15 L464.62,459.50 L465.71,458.84 L466.79,458.18 L467.88,457.52 L468.97,456.85 L470.06,456.18 L471.15,455.50 L472.24,454.82 L473.33,454.13 L474.42,453.44 L475.51,452.75 L476.60,452.05 L477.69,451.34 L478.78,450.63 L479.87,449.92 L480.96,449.20 L482.04,448.48 L483.13,447.75 L484.22,447.02 L485.31,446.29 L486.40,445.55 L487.49,444.80 L488.58,444.05 L489.67,443.30 L490.76,442.54 L491.85,441.78 L492.94,441.01 L494.03,440.24 L495.12,439.47 L496.20,438.69 L497.29,437.90 L498.38,437.11 L499.47,436.32 L500.56,435.52 L501.65,434.72 L502.74,433.92 L503.83,433.11 L504.92,432.29 L506.01,431.48 L507.10,430.65 L508.19,429.83 L509.28,429.00 L510.37,428.16 L511.45,427.33 L512.54,426.48 L513.63,425.64 L514.72,424.79 L515.81,423.93 L516.90,423.07 L517.99,422.21 L519.08,421.34 L520.17,420.47 L521.26,419.60 L522.35,418.72 L523.44,417.84 L524.53,416.95 L525.61,416.06 L526.70,415.17 L527.79,414.27 L528.88,413.37 L529.97,412.47 L531.06,411.56 L532.15,410.65 L533.24,409.74 L534.33,408.82 L535.42,407.89 L536.51,406.97 L537.60,406.04 L538.69,405.11 L539.78,404.17 L540.86,403.23 L541.95,402.29 L543.04,401.34 L544.13,400.39 L545.22,399.44 L546.31,398.49 L547.40,397.53 L548.49,396.56 L549.58,395.60 L550.67,394.63 L551.76,393.66 L552.85,392.68 L553.94,391.71 L555.02,390.73 L556.11,389.74 L557.20,388.76 L558.29,387.77 L559.38,386.78 L560.47,385.78 L561.56,384.78 L562.65,383.78 L563.74,382.78 L564.83,381.77 L565.92,380.77 L567.01,379.76 L568.10,378.74 L569.18,377.73 L570.27,376.71 L571.36,375.69 L572.45,374.66 L573.54,373.64 L574.63,372.61 L575.72,371.58 L576.81,370.55 L577.90,369.51 L578.99,368.48 L580.08,367.44 L581.17,366.40 L582.26,365.35 L583.35,364.31 L584.43,363.26 L585.52,362.21 L586.61,361.16 L587.70,360.11 L588.79,359.05 L589.88,358.00 L590.97,356.94 L592.06,355.88 L593.15,354.82 L594.24,353.75 L595.33,352.69 L596.42,351.62 L597.51,350.56 L598.59,349.49 L599.68,348.42 L600.77,347.34 L601.86,346.27 L602.95,345.19 L604.04,344.12 L605.13,343.04 L606.22,341.96 L607.31,340.88 L608.40,339.80 L609.49,338.72 L610.58,337.64 L611.67,336.55 L612.76,335.47 L613.84,334.38 L614.93,333.30 L616.02,332.21 L617.11,331.12 L618.20,330.03 L619.29,328.94 L620.38,327.85 L621.47,326.76 L622.56,325.67 L623.65,324.57 L624.74,323.48 L625.83,322.39 L626.92,321.29 L628.00,320.20 L629.09,319.10 L630.18,318.01 L631.27,316.91 L632.36,315.82 L633.45,314.72 L634.54,313.63 L635.63,312.53 L636.72,311.43 L637.81,310.34 L638.90,309.24 L639.99,308.14 L641.08,307.05 L642.17,305.95 L643.25,304.85 L644.34,303.76 L645.43,302.66 L646.52,301.57 L647.61,300.47 L648.70,299.37 L649.79,298.28 L650.88,297.18 L651.97,296.09 L653.06,295.00 L654.15,293.90 L655.24,292.81 L656.33,291.72 L657.41,290.63 L658.50,289.53 L659.59,288.44 L660.68,287.35 L661.77,286.26 L662.86,285.18 L663.95,284.09 L665.04,283.00 L666.13,281.91 L667.22,280.83 L668.31,279.74 L669.40,278.66 L670.49,277.58 L671.58,276.50 L672.66,275.41 L673.75,274.33 L674.84,273.26 L675.93,272.18 L677.02,271.10 L678.11,270.03 L679.20,268.95" stroke="#dd0000" stroke-width="3.70" stroke-linecap="round" stroke-linejoin="round" stroke-dasharray="10.8 11.5" fill="none"/>
<path d="M122.59,281.96 L123.68,400.83 L124.77,440.45 L125.86,460.27 L126.95,472.15 L128.04,480.08 L129.12,485.74 L130.21,489.98 L131.30,493.28 L132.39,495.93 L133.48,498.09 L134.57,499.89 L135.66,501.41 L136.75,502.72 L137.84,503.85 L138.93,504.84 L140.02,505.71 L141.11,506.49 L142.20,507.19 L143.29,507.81 L144.37,508.38 L145.46,508.89 L146.55,509.36 L147.64,509.79 L148.73,510.19 L149.82,510.55 L150.91,510.89 L152.00,511.21 L153.09,511.50 L154.18,511.77 L155.27,512.02 L156.36,512.26 L157.45,512.49 L158.53,512.70 L159.62,512.90 L160.71,513.09 L161.80,513.26 L162.89,513.43 L163.98,513.59 L165.07,513.74 L166.16,513.88 L167.25,514.02 L168.34,514.15 L169.43,514.27 L170.52,514.39 L171.61,514.50 L172.70,514.61 L173.78,514.71 L174.87,514.81 L175.96,514.90 L177.05,514.99 L178.14,515.08 L179.23,515.16 L180.32,515.24 L181.41,515.32 L182.50,515.39 L183.59,515.46 L184.68,515.53 L185.77,515.59 L186.86,515.65 L187.94,515.71 L189.03,515.77 L190.12,515.82 L191.21,515.88 L192.30,515.93 L193.39,515.97 L194.48,516.02 L195.57,516.06 L196.66,516.11 L197.75,516.15 L198.84,516.18 L199.93,516.22 L201.02,516.26 L202.11,516.29 L203.19,516.32 L204.28,516.35 L205.37,516.38 L206.46,516.41 L207.55,516.43 L208.64,516.46 L209.73,516.48 L210.82,516.50 L211.91,516.52 L213.00,516.54 L214.09,516.56 L215.18,516.58 L216.27,516.59 L217.35,516.60 L218.44,516.62 L219.53,516.63 L220.62,516.64 L221.71,516.65 L222.80,516.65 L223.89,516.66 L224.98,516.66 L226.07,516.67 L227.16,516.67 L228.25,516.67 L229.34,516.67 L230.43,516.67 L231.52,516.66 L232.60,516.66 L233.69,516.65 L234.78,516.65 L235.87,516.64 L236.96,516.63 L238.05,516.62 L239.14,516.61 L240.23,516.59 L241.32,516.58 L242.41,516.56 L243.50,516.55 L244.59,516.53 L245.68,516.51 L246.76,516.49 L247.85,516.46 L248.94,516.44 L250.03,516.41 L251.12,516.39 L252.21,516.36 L253.30,516.33 L254.39,516.30 L255.48,516.27 L256.57,516.23 L257.66,516.20 L258.75,516.16 L259.84,516.12 L260.93,516.09 L262.01,516.04 L263.10,516.00 L264.19,515.96 L265.28,515.91 L266.37,515.86 L267.46,515.82 L268.55,515.77 L269.64,515.71 L270.73,515.66 L271.82,515.61 L272.91,515.55 L274.00,515.49 L275.09,515.43 L276.17,515.37 L277.26,515.30 L278.35,515.24 L279.44,515.17 L280.53,515.10 L281.62,515.03 L282.71,514.96 L283.80,514.89 L284.89,514.81 L285.98,514.73 L287.07,514.65 L288.16,514.57 L289.25,514.49 L290.33,514.40 L291.42,514.31 L292.51,514.22 L293.60,514.13 L294.69,514.04 L295.78,513.94 L296.87,513.85 L297.96,513.75 L299.05,513.64 L300.14,513.54 L301.23,513.43 L302.32,513.32 L303.41,513.21 L304.50,513.10 L305.58,512.99 L306.67,512.87 L307.76,512.75 L308.85,512.63 L309.94,512.50 L311.03,512.38 L312.12,512.25 L313.21,512.12 L314.30,511.98 L315.39,511.85 L316.48,511.71 L317.57,511.57 L318.66,511.43 L319.74,511.28 L320.83,511.13 L321.92,510.98 L323.01,510.83 L324.10,510.67 L325.19,510.51 L326.28,510.35 L327.37,510.19 L328.46,510.02 L329.55,509.85 L330.64,509.68 L331.73,509.50 L332.82,509.32 L333.91,509.14 L334.99,508.96 L336.08,508.77 L337.17,508.58 L338.26,508.39 L339.35,508.20 L340.44,508.00 L341.53,507.80 L342.62,507.59 L343.71,507.39 L344.80,507.18 L345.89,506.96 L346.98,506.75 L348.07,506.53 L349.15,506.31 L350.24,506.08 L351.33,505.85 L352.42,505.62 L353.51,505.39 L354.60,505.15 L355.69,504.91 L356.78,504.66 L357.87,504.41 L358.96,504.16 L360.05,503.91 L361.14,503.65 L362.23,503.39 L363.32,503.12 L364.40,502.85 L365.49,502.58 L366.58,502.30 L367.67,502.03 L368.76,501.74 L369.85,501.46 L370.94,501.17 L372.03,500.87 L373.12,500.58 L374.21,500.28 L375.30,499.97 L376.39,499.66 L377.48,499.35 L378.56,499.04 L379.65,498.72 L380.74,498.40 L381.83,498.07 L382.92,497.74 L384.01,497.41 L385.10,497.07 L386.19,496.73 L387.28,496.38 L388.37,496.03 L389.46,495.68 L390.55,495.32 L391.64,494.96 L392.73,494.59 L393.81,494.22 L394.90,493.85 L395.99,493.47 L397.08,493.09 L398.17,492.71 L399.26,492.32 L400.35,491.92 L401.44,491.52 L402.53,491.12 L403.62,490.72 L404.71,490.31 L405.80,489.89 L406.89,489.47 L407.97,489.05 L409.06,488.62 L410.15,488.19 L411.24,487.76 L412.33,487.32 L413.42,486.87 L414.51,486.43 L415.60,485.97 L416.69,485.52 L417.78,485.06 L418.87,484.59 L419.96,484.12 L421.05,483.65 L422.14,483.17 L423.22,482.68 L424.31,482.20 L425.40,481.71 L426.49,481.21 L427.58,480.71 L428.67,480.20 L429.76,479.69 L430.85,479.18 L431.94,478.66 L433.03,478.14 L434.12,477.61 L435.21,477.08 L436.30,476.54 L437.38,476.00 L438.47,475.46 L439.56,474.91 L440.65,474.35 L441.74,473.79 L442.83,473.23 L443.92,472.66 L445.01,472.09 L446.10,471.51 L447.19,470.93 L448.28,470.35 L449.37,469.75 L450.46,469.16 L451.55,468.56 L452.63,467.96 L453.72,467.35 L454.81,466.73 L455.90,466.11 L456.99,465.49 L458.08,464.86 L459.17,464.23 L460.26,463.60 L461.35,462.96 L462.44,462.31 L463.53,461.66 L464.62,461.01 L465.71,460.35 L466.79,459.68 L467.88,459.01 L468.97,458.34 L470.06,457.66 L471.15,456.98 L472.24,456.30 L473.33,455.61 L474.42,454.91 L475.51,454.21 L476.60,453.51 L477.69,452.80 L478.78,452.08 L479.87,451.37 L480.96,450.64 L482.04,449.92 L483.13,449.19 L484.22,448.45 L485.31,447.71 L486.40,446.97 L487.49,446.22 L488.58,445.46 L489.67,444.71 L490.76,443.94 L491.85,443.18 L492.94,442.41 L494.03,441.63 L495.12,440.85 L496.20,440.07 L497.29,439.28 L498.38,438.49 L499.47,437.69 L500.56,436.89 L501.65,436.09 L502.74,435.28 L503.83,434.46 L504.92,433.65 L506.01,432.82 L507.10,432.00 L508.19,431.17 L509.28,430.33 L510.37,429.50 L511.45,428.65 L512.54,427.81 L513.63,426.96 L514.72,426.10 L515.81,425.24 L516.90,424.38 L517.99,423.52 L519.08,422.65 L520.17,421.77 L521.26,420.89 L522.35,420.01 L523.44,419.13 L524.53,418.24 L525.61,417.35 L526.70,416.45 L527.79,415.55 L528.88,414.65 L529.97,413.74 L531.06,412.83 L532.15,411.91 L533.24,410.99 L534.33,410.07 L535.42,409.15 L536.51,408.22 L537.60,407.28 L538.69,406.35 L539.78,405.41 L540.86,404.47 L541.95,403.52 L543.04,402.57 L544.13,401.62 L545.22,400.66 L546.31,399.70 L547.40,398.74 L548.49,397.78 L549.58,396.81 L550.67,395.84 L551.76,394.86 L552.85,393.89 L553.94,392.90 L555.02,391.92 L556.11,390.93 L557.20,389.95 L558.29,388.95 L559.38,387.96 L560.47,386.96 L561.56,385.96 L562.65,384.96 L563.74,383.95 L564.83,382.94 L565.92,381.93 L567.01,380.92 L568.10,379.90 L569.18,378.88 L570.27,377.86 L571.36,376.84 L572.45,375.81 L573.54,374.78 L574.63,373.75 L575.72,372.72 L576.81,371.69 L577.90,370.65 L578.99,369.61 L580.08,368.57 L581.17,367.52 L582.26,366.48 L583.35,365.43 L584.43,364.38 L585.52,363.33 L586.61,362.27 L587.70,361.22 L588.79,360.16 L589.88,359.10 L590.97,358.04 L592.06,356.98 L593.15,355.92 L594.24,354.85 L595.33,353.78 L596.42,352.71 L597.51,351.64 L598.59,350.57 L599.68,349.50 L600.77,348.42 L601.86,347.35 L602.95,346.27 L604.04,345.19 L605.13,344.11 L606.22,343.03 L607.31,341.95 L608.40,340.87 L609.49,339.78 L610.58,338.70 L611.67,337.61 L612.76,336.52 L613.84,335.43 L614.93,334.35 L616.02,333.26 L617.11,332.16 L618.20,331.07 L619.29,329.98 L620.38,328.89 L621.47,327.79 L622.56,326.70 L623.65,325.61 L624.74,324.51 L625.83,323.41 L626.92,322.32 L628.00,321.22 L629.09,320.12 L630.18,319.03 L631.27,317.93 L632.36,316.83 L633.45,315.73 L634.54,314.64 L635.63,313.54 L636.72,312.44 L637.81,311.34 L638.90,310.24 L639.99,309.14 L641.08,308.04 L642.17,306.95 L643.25,305.85 L644.34,304.75 L645.43,303.65 L646.52,302.55 L647.61,301.45 L648.70,300.36 L649.79,299.26 L650.88,298.16 L651.97,297.07 L653.06,295.97 L654.15,294.88 L655.24,293.78 L656.33,292.69 L657.41,291.59 L658.50,290.50 L659.59,289.41 L660.68,288.31 L661.77,287.22 L662.86,286.13 L663.95,285.04 L665.04,283.95 L666.13,282.86 L667.22,281.78 L668.31,280.69 L669.40,279.61 L670.49,278.52 L671.58,277.44 L672.66,276.35 L673.75,275.27 L674.84,274.19 L675.93,273.11 L677.02,272.03 L678.11,270.96 L679.20,269.88" stroke="#dd0000" stroke-width="3.70" stroke-linecap="round" stroke-linejoin="round" stroke-dasharray="10.8 11.5" fill="none"/>
<path d="M121.50,519.70 L122.59,519.71 L123.68,519.72 L124.77,519.74 L125.86,519.75 L126.95,519.76 L128.04,519.77 L129.12,519.79 L130.21,519.80 L131.30,519.81 L132.39,519.82 L133.48,519.83 L134.57,519.85 L135.66,519.86 L136.75,519.87 L137.84,519.88 L138.93,519.90 L140.02,519.91 L141.11,519.92 L142.20,519.93 L143.29,519.94 L144.37,519.96 L145.46,519.97 L146.55,519.98 L147.64,519.99 L148.73,520.00 L149.82,520.02 L150.91,520.03 L152.00,520.04 L153.09,520.05 L154.18,520.06 L155.27,520.08 L156.36,520.09 L157.45,520.10 L158.53,520.11 L159.62,520.12 L160.71,520.13 L161.80,520.14 L162.89,520.15 L163.98,520.17 L165.07,520.18 L166.16,520.19 L167.25,520.20 L168.34,520.21 L169.43,520.22 L170.52,520.23 L171.61,520.24 L172.70,520.25 L173.78,520.26 L174.87,520.27 L175.96,520.28 L177.05,520.29 L178.14,520.30 L179.23,520.31 L180.32,520.31 L181.41,520.32 L182.50,520.33 L183.59,520.34 L184.68,520.35 L185.77,520.35 L186.86,520.36 L187.94,520.37 L189.03,520.38 L190.12,520.38 L191.21,520.39 L192.30,520.39 L193.39,520.40 L194.48,520.41 L195.57,520.41 L196.66,520.41 L197.75,520.42 L198.84,520.42 L199.93,520.43 L201.02,520.43 L202.11,520.43 L203.19,520.44 L204.28,520.44 L205.37,520.44 L206.46,520.44 L207.55,520.44 L208.64,520.44 L209.73,520.44 L210.82,520.44 L211.91,520.44 L213.00,520.44 L214.09,520.44 L215.18,520.43 L216.27,520.43 L217.35,520.43 L218.44,520.42 L219.53,520.42 L220.62,520.41 L221.71,520.41 L222.80,520.40 L223.89,520.39 L224.98,520.39 L226.07,520.38 L227.16,520.37 L228.25,520.36 L229.34,520.35 L230.43,520.34 L231.52,520.33 L232.60,520.31 L233.69,520.30 L234.78,520.29 L235.87,520.27 L236.96,520.26 L238.05,520.24 L239.14,520.22 L240.23,520.20 L241.32,520.19 L242.41,520.17 L243.50,520.14 L244.59,520.12 L245.68,520.10 L246.76,520.08 L247.85,520.05 L248.94,520.03 L250.03,520.00 L251.12,519.97 L252.21,519.95 L253.30,519.92 L254.39,519.89 L255.48,519.85 L256.57,519.82 L257.66,519.79 L258.75,519.75 L259.84,519.72 L260.93,519.68 L262.01,519.64 L263.10,519.60 L264.19,519.56 L265.28,519.52 L266.37,519.48 L267.46,519.43 L268.55,519.39 L269.64,519.34 L270.73,519.29 L271.82,519.24 L272.91,519.19 L274.00,519.14 L275.09,519.08 L276.17,519.03 L277.26,518.97 L278.35,518.92 L279.44,518.86 L280.53,518.79 L281.62,518.73 L282.71,518.67 L283.80,518.60 L284.89,518.53 L285.98,518.47 L287.07,518.40 L288.16,518.32 L289.25,518.25 L290.33,518.17 L291.42,518.10 L292.51,518.02 L293.60,517.94 L294.69,517.86 L295.78,517.77 L296.87,517.69 L297.96,517.60 L299.05,517.51 L300.14,517.42 L301.23,517.32 L302.32,517.23 L303.41,517.13 L304.50,517.03 L305.58,516.93 L306.67,516.83 L307.76,516.72 L308.85,516.61 L309.94,516.51 L311.03,516.39 L312.12,516.28 L313.21,516.16 L314.30,516.05 L315.39,515.93 L316.48,515.80 L317.57,515.68 L318.66,515.55 L319.74,515.42 L320.83,515.29 L321.92,515.16 L323.01,515.02 L324.10,514.88 L325.19,514.74 L326.28,514.60 L327.37,514.46 L328.46,514.31 L329.55,514.16 L330.64,514.00 L331.73,513.85 L332.82,513.69 L333.91,513.53 L334.99,513.37 L336.08,513.20 L337.17,513.03 L338.26,512.86 L339.35,512.69 L340.44,512.51 L341.53,512.33 L342.62,512.15 L343.71,511.96 L344.80,511.78 L345.89,511.59 L346.98,511.39 L348.07,511.20 L349.15,511.00 L350.24,510.79 L351.33,510.59 L352.42,510.38 L353.51,510.17 L354.60,509.96 L355.69,509.74 L356.78,509.52 L357.87,509.30 L358.96,509.07 L360.05,508.84 L361.14,508.61 L362.23,508.37 L363.32,508.13 L364.40,507.89 L365.49,507.65 L366.58,507.40 L367.67,507.14 L368.76,506.89 L369.85,506.63 L370.94,506.37 L372.03,506.10 L373.12,505.83 L374.21,505.56 L375.30,505.29 L376.39,505.01 L377.48,504.73 L378.56,504.44 L379.65,504.15 L380.74,503.86 L381.83,503.56 L382.92,503.26 L384.01,502.96 L385.10,502.65 L386.19,502.34 L387.28,502.02 L388.37,501.70 L389.46,501.38 L390.55,501.05 L391.64,500.72 L392.73,500.39 L393.81,500.05 L394.90,499.71 L395.99,499.37 L397.08,499.02 L398.17,498.67 L399.26,498.31 L400.35,497.95 L401.44,497.58 L402.53,497.22 L403.62,496.84 L404.71,496.47 L405.80,496.09 L406.89,495.70 L407.97,495.31 L409.06,494.92 L410.15,494.52 L411.24,494.12 L412.33,493.72 L413.42,493.31 L414.51,492.90 L415.60,492.48 L416.69,492.06 L417.78,491.63 L418.87,491.20 L419.96,490.77 L421.05,490.33 L422.14,489.89 L423.22,489.44 L424.31,488.99 L425.40,488.54 L426.49,488.08 L427.58,487.62 L428.67,487.15 L429.76,486.68 L430.85,486.20 L431.94,485.72 L433.03,485.23 L434.12,484.74 L435.21,484.25 L436.30,483.75 L437.38,483.25 L438.47,482.74 L439.56,482.23 L440.65,481.71 L441.74,481.19 L442.83,480.67 L443.92,480.14 L445.01,479.61 L446.10,479.07 L447.19,478.53 L448.28,477.98 L449.37,477.43 L450.46,476.87 L451.55,476.31 L452.63,475.75 L453.72,475.18 L454.81,474.60 L455.90,474.02 L456.99,473.44 L458.08,472.85 L459.17,472.26 L460.26,471.66 L461.35,471.06 L462.44,470.46 L463.53,469.85 L464.62,469.23 L465.71,468.61 L466.79,467.99 L467.88,467.36 L468.97,466.73 L470.06,466.09 L471.15,465.45 L472.24,464.80 L473.33,464.15 L474.42,463.50 L475.51,462.84 L476.60,462.17 L477.69,461.50 L478.78,460.83 L479.87,460.15 L480.96,459.47 L482.04,458.78 L483.13,458.09 L484.22,457.40 L485.31,456.70 L486.40,455.99 L487.49,455.28 L488.58,454.57 L489.67,453.85 L490.76,453.13 L491.85,452.40 L492.94,451.67 L494.03,450.93 L495.12,450.19 L496.20,449.45 L497.29,448.70 L498.38,447.95 L499.47,447.19 L500.56,446.43 L501.65,445.66 L502.74,444.89 L503.83,444.12 L504.92,443.34 L506.01,442.55 L507.10,441.77 L508.19,440.97 L509.28,440.18 L510.37,439.38 L511.45,438.57 L512.54,437.76 L513.63,436.95 L514.72,436.13 L515.81,435.31 L516.90,434.49 L517.99,433.66 L519.08,432.83 L520.17,431.99 L521.26,431.15 L522.35,430.30 L523.44,429.45 L524.53,428.60 L525.61,427.74 L526.70,426.88 L527.79,426.02 L528.88,425.15 L529.97,424.27 L531.06,423.40 L532.15,422.52 L533.24,421.63 L534.33,420.74 L535.42,419.85 L536.51,418.96 L537.60,418.06 L538.69,417.15 L539.78,416.25 L540.86,415.34 L541.95,414.42 L543.04,413.51 L544.13,412.59 L545.22,411.66 L546.31,410.73 L547.40,409.80 L548.49,408.87 L549.58,407.93 L550.67,406.99 L551.76,406.05 L552.85,405.10 L553.94,404.15 L555.02,403.19 L556.11,402.24 L557.20,401.27 L558.29,400.31 L559.38,399.34 L560.47,398.37 L561.56,397.40 L562.65,396.42 L563.74,395.45 L564.83,394.46 L565.92,393.48 L567.01,392.49 L568.10,391.50 L569.18,390.51 L570.27,389.51 L571.36,388.51 L572.45,387.51 L573.54,386.51 L574.63,385.50 L575.72,384.49 L576.81,383.48 L577.90,382.46 L578.99,381.45 L580.08,380.43 L581.17,379.40 L582.26,378.38 L583.35,377.35 L584.43,376.32 L585.52,375.29 L586.61,374.26 L587.70,373.22 L588.79,372.18 L589.88,371.14 L590.97,370.10 L592.06,369.06 L593.15,368.01 L594.24,366.96 L595.33,365.91 L596.42,364.86 L597.51,363.81 L598.59,362.75 L599.68,361.69 L600.77,360.63 L601.86,359.57 L602.95,358.51 L604.04,357.44 L605.13,356.38 L606.22,355.31 L607.31,354.24 L608.40,353.17 L609.49,352.10 L610.58,351.03 L611.67,349.95 L612.76,348.87 L613.84,347.80 L614.93,346.72 L616.02,345.64 L617.11,344.56 L618.20,343.48 L619.29,342.39 L620.38,341.31 L621.47,340.22 L622.56,339.14 L623.65,338.05 L624.74,336.96 L625.83,335.87 L626.92,334.78 L628.00,333.69 L629.09,332.60 L630.18,331.51 L631.27,330.41 L632.36,329.32 L633.45,328.23 L634.54,327.13 L635.63,326.04 L636.72,324.94 L637.81,323.84 L638.90,322.75 L639.99,321.65 L641.08,320.55 L642.17,319.46 L643.25,318.36 L644.34,317.26 L645.43,316.16 L646.52,315.06 L647.61,313.96 L648.70,312.86 L649.79,311.77 L650.88,310.67 L651.97,309.57 L653.06,308.47 L654.15,307.37 L655.24,306.27 L656.33,305.17 L657.41,304.08 L658.50,302.98 L659.59,301.88 L660.68,300.78 L661.77,299.69 L662.86,298.59 L663.95,297.49 L665.04,296.40 L666.13,295.30 L667.22,294.21 L668.31,293.12 L669.40,292.02 L670.49,290.93 L671.58,289.84 L672.66,288.75 L673.75,287.65 L674.84,286.56 L675.93,285.47 L677.02,284.39 L678.11,283.30 L679.20,282.21" stroke="#0000cc" stroke-width="3.50" stroke-linecap="round" stroke-linejoin="round" stroke-dasharray="5.2 5.95" fill="none"/>
<path d="M121.50,519.70 L122.59,519.73 L123.68,519.77 L124.77,519.80 L125.86,519.84 L126.95,519.87 L128.04,519.91 L129.12,519.94 L130.21,519.98 L131.30,520.01 L132.39,520.05 L133.48,520.08 L134.57,520.12 L135.66,520.15 L136.75,520.18 L137.84,520.22 L138.93,520.25 L140.02,520.29 L141.11,520.32 L142.20,520.36 L143.29,520.39 L144.37,520.43 L145.46,520.46 L146.55,520.50 L147.64,520.53 L148.73,520.57 L149.82,520.60 L150.91,520.64 L152.00,520.67 L153.09,520.71 L154.18,520.74 L155.27,520.77 L156.36,520.81 L157.45,520.84 L158.53,520.88 L159.62,520.91 L160.71,520.95 L161.80,520.98 L162.89,521.01 L163.98,521.05 L165.07,521.08 L166.16,521.12 L167.25,521.15 L168.34,521.18 L169.43,521.22 L170.52,521.25 L171.61,521.29 L172.70,521.32 L173.78,521.35 L174.87,521.38 L175.96,521.42 L177.05,521.45 L178.14,521.48 L179.23,521.52 L180.32,521.55 L181.41,521.58 L182.50,521.61 L183.59,521.65 L184.68,521.68 L185.77,521.71 L186.86,521.74 L187.94,521.77 L189.03,521.80 L190.12,521.83 L191.21,521.86 L192.30,521.90 L193.39,521.93 L194.48,521.96 L195.57,521.99 L196.66,522.01 L197.75,522.04 L198.84,522.07 L199.93,522.10 L201.02,522.13 L202.11,522.16 L203.19,522.19 L204.28,522.21 L205.37,522.24 L206.46,522.27 L207.55,522.29 L208.64,522.32 L209.73,522.35 L210.82,522.37 L211.91,522.40 L213.00,522.42 L214.09,522.45 L215.18,522.47 L216.27,522.49 L217.35,522.52 L218.44,522.54 L219.53,522.56 L220.62,522.58 L221.71,522.60 L222.80,522.62 L223.89,522.64 L224.98,522.66 L226.07,522.68 L227.16,522.70 L228.25,522.72 L229.34,522.74 L230.43,522.75 L231.52,522.77 L232.60,522.79 L233.69,522.80 L234.78,522.82 L235.87,522.83 L236.96,522.84 L238.05,522.86 L239.14,522.87 L240.23,522.88 L241.32,522.89 L242.41,522.90 L243.50,522.91 L244.59,522.92 L245.68,522.93 L246.76,522.93 L247.85,522.94 L248.94,522.94 L250.03,522.95 L251.12,522.95 L252.21,522.96 L253.30,522.96 L254.39,522.96 L255.48,522.96 L256.57,522.96 L257.66,522.96 L258.75,522.96 L259.84,522.95 L260.93,522.95 L262.01,522.94 L263.10,522.94 L264.19,522.93 L265.28,522.92 L266.37,522.91 L267.46,522.90 L268.55,522.89 L269.64,522.88 L270.73,522.87 L271.82,522.85 L272.91,522.84 L274.00,522.82 L275.09,522.80 L276.17,522.78 L277.26,522.76 L278.35,522.74 L279.44,522.72 L280.53,522.69 L281.62,522.67 L282.71,522.64 L283.80,522.62 L284.89,522.59 L285.98,522.56 L287.07,522.52 L288.16,522.49 L289.25,522.46 L290.33,522.42 L291.42,522.38 L292.51,522.34 L293.60,522.30 L294.69,522.26 L295.78,522.22 L296.87,522.17 L297.96,522.13 L299.05,522.08 L300.14,522.03 L301.23,521.98 L302.32,521.93 L303.41,521.87 L304.50,521.82 L305.58,521.76 L306.67,521.70 L307.76,521.64 L308.85,521.58 L309.94,521.51 L311.03,521.45 L312.12,521.38 L313.21,521.31 L314.30,521.24 L315.39,521.16 L316.48,521.09 L317.57,521.01 L318.66,520.93 L319.74,520.85 L320.83,520.77 L321.92,520.68 L323.01,520.60 L324.10,520.51 L325.19,520.42 L326.28,520.32 L327.37,520.23 L328.46,520.13 L329.55,520.03 L330.64,519.93 L331.73,519.83 L332.82,519.72 L333.91,519.61 L334.99,519.50 L336.08,519.39 L337.17,519.27 L338.26,519.16 L339.35,519.04 L340.44,518.91 L341.53,518.79 L342.62,518.66 L343.71,518.53 L344.80,518.40 L345.89,518.27 L346.98,518.13 L348.07,517.99 L349.15,517.85 L350.24,517.71 L351.33,517.56 L352.42,517.41 L353.51,517.26 L354.60,517.11 L355.69,516.95 L356.78,516.79 L357.87,516.63 L358.96,516.46 L360.05,516.30 L361.14,516.12 L362.23,515.95 L363.32,515.78 L364.40,515.60 L365.49,515.41 L366.58,515.23 L367.67,515.04 L368.76,514.85 L369.85,514.66 L370.94,514.46 L372.03,514.26 L373.12,514.06 L374.21,513.86 L375.30,513.65 L376.39,513.44 L377.48,513.22 L378.56,513.00 L379.65,512.78 L380.74,512.56 L381.83,512.33 L382.92,512.10 L384.01,511.87 L385.10,511.63 L386.19,511.39 L387.28,511.15 L388.37,510.90 L389.46,510.65 L390.55,510.40 L391.64,510.14 L392.73,509.88 L393.81,509.62 L394.90,509.35 L395.99,509.08 L397.08,508.81 L398.17,508.53 L399.26,508.25 L400.35,507.97 L401.44,507.68 L402.53,507.39 L403.62,507.09 L404.71,506.79 L405.80,506.49 L406.89,506.19 L407.97,505.88 L409.06,505.56 L410.15,505.25 L411.24,504.93 L412.33,504.60 L413.42,504.28 L414.51,503.94 L415.60,503.61 L416.69,503.27 L417.78,502.93 L418.87,502.58 L419.96,502.23 L421.05,501.87 L422.14,501.51 L423.22,501.15 L424.31,500.79 L425.40,500.41 L426.49,500.04 L427.58,499.66 L428.67,499.28 L429.76,498.89 L430.85,498.50 L431.94,498.11 L433.03,497.71 L434.12,497.31 L435.21,496.90 L436.30,496.49 L437.38,496.08 L438.47,495.66 L439.56,495.23 L440.65,494.81 L441.74,494.38 L442.83,493.94 L443.92,493.50 L445.01,493.06 L446.10,492.61 L447.19,492.16 L448.28,491.70 L449.37,491.24 L450.46,490.77 L451.55,490.30 L452.63,489.83 L453.72,489.35 L454.81,488.87 L455.90,488.38 L456.99,487.89 L458.08,487.40 L459.17,486.90 L460.26,486.39 L461.35,485.88 L462.44,485.37 L463.53,484.85 L464.62,484.33 L465.71,483.81 L466.79,483.28 L467.88,482.74 L468.97,482.20 L470.06,481.66 L471.15,481.11 L472.24,480.56 L473.33,480.00 L474.42,479.44 L475.51,478.88 L476.60,478.31 L477.69,477.73 L478.78,477.15 L479.87,476.57 L480.96,475.98 L482.04,475.39 L483.13,474.79 L484.22,474.19 L485.31,473.59 L486.40,472.98 L487.49,472.36 L488.58,471.74 L489.67,471.12 L490.76,470.49 L491.85,469.86 L492.94,469.22 L494.03,468.58 L495.12,467.93 L496.20,467.28 L497.29,466.63 L498.38,465.97 L499.47,465.31 L500.56,464.64 L501.65,463.97 L502.74,463.29 L503.83,462.61 L504.92,461.92 L506.01,461.23 L507.10,460.54 L508.19,459.84 L509.28,459.14 L510.37,458.43 L511.45,457.72 L512.54,457.00 L513.63,456.28 L514.72,455.56 L515.81,454.83 L516.90,454.09 L517.99,453.35 L519.08,452.61 L520.17,451.87 L521.26,451.12 L522.35,450.36 L523.44,449.60 L524.53,448.84 L525.61,448.07 L526.70,447.30 L527.79,446.52 L528.88,445.74 L529.97,444.96 L531.06,444.17 L532.15,443.37 L533.24,442.58 L534.33,441.78 L535.42,440.97 L536.51,440.16 L537.60,439.35 L538.69,438.53 L539.78,437.71 L540.86,436.88 L541.95,436.05 L543.04,435.22 L544.13,434.38 L545.22,433.54 L546.31,432.70 L547.40,431.85 L548.49,430.99 L549.58,430.14 L550.67,429.28 L551.76,428.41 L552.85,427.54 L553.94,426.67 L555.02,425.80 L556.11,424.92 L557.20,424.03 L558.29,423.15 L559.38,422.25 L560.47,421.36 L561.56,420.46 L562.65,419.56 L563.74,418.66 L564.83,417.75 L565.92,416.84 L567.01,415.92 L568.10,415.00 L569.18,414.08 L570.27,413.15 L571.36,412.22 L572.45,411.29 L573.54,410.36 L574.63,409.42 L575.72,408.48 L576.81,407.53 L577.90,406.58 L578.99,405.63 L580.08,404.67 L581.17,403.72 L582.26,402.76 L583.35,401.79 L584.43,400.82 L585.52,399.85 L586.61,398.88 L587.70,397.91 L588.79,396.93 L589.88,395.95 L590.97,394.96 L592.06,393.97 L593.15,392.98 L594.24,391.99 L595.33,391.00 L596.42,390.00 L597.51,389.00 L598.59,387.99 L599.68,386.99 L600.77,385.98 L601.86,384.97 L602.95,383.95 L604.04,382.94 L605.13,381.92 L606.22,380.90 L607.31,379.88 L608.40,378.85 L609.49,377.83 L610.58,376.80 L611.67,375.76 L612.76,374.73 L613.84,373.69 L614.93,372.66 L616.02,371.62 L617.11,370.57 L618.20,369.53 L619.29,368.48 L620.38,367.44 L621.47,366.39 L622.56,365.34 L623.65,364.28 L624.74,363.23 L625.83,362.17 L626.92,361.11 L628.00,360.05 L629.09,358.99 L630.18,357.93 L631.27,356.86 L632.36,355.80 L633.45,354.73 L634.54,353.66 L635.63,352.59 L636.72,351.52 L637.81,350.45 L638.90,349.37 L639.99,348.30 L641.08,347.22 L642.17,346.14 L643.25,345.06 L644.34,343.98 L645.43,342.90 L646.52,341.82 L647.61,340.74 L648.70,339.65 L649.79,338.57 L650.88,337.48 L651.97,336.40 L653.06,335.31 L654.15,334.22 L655.24,333.13 L656.33,332.05 L657.41,330.96 L658.50,329.86 L659.59,328.77 L660.68,327.68 L661.77,326.59 L662.86,325.50 L663.95,324.41 L665.04,323.31 L666.13,322.22 L667.22,321.12 L668.31,320.03 L669.40,318.94 L670.49,317.84 L671.58,316.75 L672.66,315.65 L673.75,314.56 L674.84,313.46 L675.93,312.37 L677.02,311.27 L678.11,310.18 L679.20,309.08" stroke="#0000cc" stroke-width="3.50" stroke-linecap="round" stroke-linejoin="round" stroke-dasharray="5.2 5.95" fill="none"/>
<path d="M121.50,519.70 L122.59,519.76 L123.68,519.82 L124.77,519.88 L125.86,519.95 L126.95,520.01 L128.04,520.07 L129.12,520.13 L130.21,520.19 L131.30,520.25 L132.39,520.31 L133.48,520.38 L134.57,520.44 L135.66,520.50 L136.75,520.56 L137.84,520.62 L138.93,520.69 L140.02,520.75 L141.11,520.81 L142.20,520.87 L143.29,520.93 L144.37,521.00 L145.46,521.06 L146.55,521.12 L147.64,521.18 L148.73,521.25 L149.82,521.31 L150.91,521.37 L152.00,521.43 L153.09,521.50 L154.18,521.56 L155.27,521.62 L156.36,521.68 L157.45,521.75 L158.53,521.81 L159.62,521.87 L160.71,521.93 L161.80,522.00 L162.89,522.06 L163.98,522.12 L165.07,522.18 L166.16,522.25 L167.25,522.31 L168.34,522.37 L169.43,522.43 L170.52,522.50 L171.61,522.56 L172.70,522.62 L173.78,522.68 L174.87,522.75 L175.96,522.81 L177.05,522.87 L178.14,522.93 L179.23,523.00 L180.32,523.06 L181.41,523.12 L182.50,523.18 L183.59,523.24 L184.68,523.31 L185.77,523.37 L186.86,523.43 L187.94,523.49 L189.03,523.55 L190.12,523.61 L191.21,523.67 L192.30,523.74 L193.39,523.80 L194.48,523.86 L195.57,523.92 L196.66,523.98 L197.75,524.04 L198.84,524.10 L199.93,524.16 L201.02,524.22 L202.11,524.28 L203.19,524.34 L204.28,524.40 L205.37,524.46 L206.46,524.52 L207.55,524.58 L208.64,524.64 L209.73,524.69 L210.82,524.75 L211.91,524.81 L213.00,524.87 L214.09,524.93 L215.18,524.98 L216.27,525.04 L217.35,525.10 L218.44,525.15 L219.53,525.21 L220.62,525.27 L221.71,525.32 L222.80,525.38 L223.89,525.43 L224.98,525.49 L226.07,525.54 L227.16,525.60 L228.25,525.65 L229.34,525.70 L230.43,525.76 L231.52,525.81 L232.60,525.86 L233.69,525.91 L234.78,525.96 L235.87,526.02 L236.96,526.07 L238.05,526.12 L239.14,526.17 L240.23,526.22 L241.32,526.26 L242.41,526.31 L243.50,526.36 L244.59,526.41 L245.68,526.46 L246.76,526.50 L247.85,526.55 L248.94,526.59 L250.03,526.64 L251.12,526.68 L252.21,526.73 L253.30,526.77 L254.39,526.81 L255.48,526.86 L256.57,526.90 L257.66,526.94 L258.75,526.98 L259.84,527.02 L260.93,527.06 L262.01,527.09 L263.10,527.13 L264.19,527.17 L265.28,527.21 L266.37,527.24 L267.46,527.28 L268.55,527.31 L269.64,527.34 L270.73,527.38 L271.82,527.41 L272.91,527.44 L274.00,527.47 L275.09,527.50 L276.17,527.53 L277.26,527.55 L278.35,527.58 L279.44,527.61 L280.53,527.63 L281.62,527.66 L282.71,527.68 L283.80,527.70 L284.89,527.72 L285.98,527.75 L287.07,527.77 L288.16,527.78 L289.25,527.80 L290.33,527.82 L291.42,527.83 L292.51,527.85 L293.60,527.86 L294.69,527.87 L295.78,527.89 L296.87,527.90 L297.96,527.91 L299.05,527.91 L300.14,527.92 L301.23,527.93 L302.32,527.93 L303.41,527.94 L304.50,527.94 L305.58,527.94 L306.67,527.94 L307.76,527.94 L308.85,527.94 L309.94,527.93 L311.03,527.93 L312.12,527.92 L313.21,527.91 L314.30,527.90 L315.39,527.89 L316.48,527.88 L317.57,527.87 L318.66,527.85 L319.74,527.84 L320.83,527.82 L321.92,527.80 L323.01,527.78 L324.10,527.76 L325.19,527.73 L326.28,527.71 L327.37,527.68 L328.46,527.65 L329.55,527.62 L330.64,527.59 L331.73,527.56 L332.82,527.53 L333.91,527.49 L334.99,527.45 L336.08,527.41 L337.17,527.37 L338.26,527.33 L339.35,527.28 L340.44,527.24 L341.53,527.19 L342.62,527.14 L343.71,527.09 L344.80,527.03 L345.89,526.98 L346.98,526.92 L348.07,526.86 L349.15,526.80 L350.24,526.74 L351.33,526.67 L352.42,526.61 L353.51,526.54 L354.60,526.47 L355.69,526.39 L356.78,526.32 L357.87,526.24 L358.96,526.16 L360.05,526.08 L361.14,526.00 L362.23,525.91 L363.32,525.82 L364.40,525.73 L365.49,525.64 L366.58,525.55 L367.67,525.45 L368.76,525.35 L369.85,525.25 L370.94,525.15 L372.03,525.04 L373.12,524.93 L374.21,524.82 L375.30,524.71 L376.39,524.60 L377.48,524.48 L378.56,524.36 L379.65,524.24 L380.74,524.11 L381.83,523.98 L382.92,523.85 L384.01,523.72 L385.10,523.59 L386.19,523.45 L387.28,523.31 L388.37,523.17 L389.46,523.02 L390.55,522.87 L391.64,522.72 L392.73,522.57 L393.81,522.41 L394.90,522.25 L395.99,522.09 L397.08,521.93 L398.17,521.76 L399.26,521.59 L400.35,521.42 L401.44,521.24 L402.53,521.06 L403.62,520.88 L404.71,520.70 L405.80,520.51 L406.89,520.32 L407.97,520.13 L409.06,519.93 L410.15,519.73 L411.24,519.53 L412.33,519.32 L413.42,519.11 L414.51,518.90 L415.60,518.69 L416.69,518.47 L417.78,518.25 L418.87,518.03 L419.96,517.80 L421.05,517.57 L422.14,517.33 L423.22,517.10 L424.31,516.86 L425.40,516.61 L426.49,516.37 L427.58,516.12 L428.67,515.86 L429.76,515.61 L430.85,515.35 L431.94,515.08 L433.03,514.82 L434.12,514.54 L435.21,514.27 L436.30,513.99 L437.38,513.71 L438.47,513.43 L439.56,513.14 L440.65,512.85 L441.74,512.55 L442.83,512.26 L443.92,511.95 L445.01,511.65 L446.10,511.34 L447.19,511.03 L448.28,510.71 L449.37,510.39 L450.46,510.07 L451.55,509.74 L452.63,509.41 L453.72,509.07 L454.81,508.73 L455.90,508.39 L456.99,508.04 L458.08,507.69 L459.17,507.34 L460.26,506.98 L461.35,506.62 L462.44,506.25 L463.53,505.88 L464.62,505.51 L465.71,505.13 L466.79,504.75 L467.88,504.37 L468.97,503.98 L470.06,503.58 L471.15,503.19 L472.24,502.79 L473.33,502.38 L474.42,501.97 L475.51,501.56 L476.60,501.14 L477.69,500.72 L478.78,500.30 L479.87,499.87 L480.96,499.43 L482.04,499.00 L483.13,498.56 L484.22,498.11 L485.31,497.66 L486.40,497.21 L487.49,496.75 L488.58,496.29 L489.67,495.82 L490.76,495.35 L491.85,494.88 L492.94,494.40 L494.03,493.91 L495.12,493.43 L496.20,492.94 L497.29,492.44 L498.38,491.94 L499.47,491.44 L500.56,490.93 L501.65,490.42 L502.74,489.90 L503.83,489.38 L504.92,488.85 L506.01,488.32 L507.10,487.79 L508.19,487.25 L509.28,486.71 L510.37,486.16 L511.45,485.61 L512.54,485.06 L513.63,484.50 L514.72,483.93 L515.81,483.36 L516.90,482.79 L517.99,482.22 L519.08,481.63 L520.17,481.05 L521.26,480.46 L522.35,479.87 L523.44,479.27 L524.53,478.67 L525.61,478.06 L526.70,477.45 L527.79,476.83 L528.88,476.21 L529.97,475.59 L531.06,474.96 L532.15,474.33 L533.24,473.69 L534.33,473.05 L535.42,472.40 L536.51,471.75 L537.60,471.10 L538.69,470.44 L539.78,469.78 L540.86,469.11 L541.95,468.44 L543.04,467.76 L544.13,467.08 L545.22,466.40 L546.31,465.71 L547.40,465.02 L548.49,464.32 L549.58,463.62 L550.67,462.92 L551.76,462.21 L552.85,461.49 L553.94,460.78 L555.02,460.05 L556.11,459.33 L557.20,458.60 L558.29,457.86 L559.38,457.12 L560.47,456.38 L561.56,455.63 L562.65,454.88 L563.74,454.13 L564.83,453.37 L565.92,452.61 L567.01,451.84 L568.10,451.07 L569.18,450.29 L570.27,449.51 L571.36,448.73 L572.45,447.94 L573.54,447.15 L574.63,446.36 L575.72,445.56 L576.81,444.75 L577.90,443.95 L578.99,443.14 L580.08,442.32 L581.17,441.50 L582.26,440.68 L583.35,439.85 L584.43,439.02 L585.52,438.19 L586.61,437.35 L587.70,436.51 L588.79,435.67 L589.88,434.82 L590.97,433.96 L592.06,433.11 L593.15,432.25 L594.24,431.38 L595.33,430.52 L596.42,429.65 L597.51,428.77 L598.59,427.89 L599.68,427.01 L600.77,426.13 L601.86,425.24 L602.95,424.35 L604.04,423.45 L605.13,422.56 L606.22,421.65 L607.31,420.75 L608.40,419.84 L609.49,418.93 L610.58,418.01 L611.67,417.09 L612.76,416.17 L613.84,415.25 L614.93,414.32 L616.02,413.39 L617.11,412.45 L618.20,411.52 L619.29,410.58 L620.38,409.63 L621.47,408.69 L622.56,407.74 L623.65,406.78 L624.74,405.83 L625.83,404.87 L626.92,403.91 L628.00,402.95 L629.09,401.98 L630.18,401.01 L631.27,400.04 L632.36,399.06 L633.45,398.08 L634.54,397.10 L635.63,396.12 L636.72,395.14 L637.81,394.15 L638.90,393.16 L639.99,392.16 L641.08,391.17 L642.17,390.17 L643.25,389.17 L644.34,388.17 L645.43,387.16 L646.52,386.15 L647.61,385.14 L648.70,384.13 L649.79,383.12 L650.88,382.10 L651.97,381.08 L653.06,380.06 L654.15,379.04 L655.24,378.02 L656.33,376.99 L657.41,375.96 L658.50,374.93 L659.59,373.90 L660.68,372.86 L661.77,371.83 L662.86,370.79 L663.95,369.75 L665.04,368.71 L666.13,367.66 L667.22,366.62 L668.31,365.57 L669.40,364.52 L670.49,363.47 L671.58,362.42 L672.66,361.37 L673.75,360.31 L674.84,359.26 L675.93,358.20 L677.02,357.14 L678.11,356.08 L679.20,355.02" stroke="#0000cc" stroke-width="3.50" stroke-linecap="round" stroke-linejoin="round" stroke-dasharray="5.2 5.95" fill="none"/>
<path d="M121.50,519.70 L122.59,519.78 L123.68,519.86 L124.77,519.95 L125.86,520.03 L126.95,520.11 L128.04,520.19 L129.12,520.27 L130.21,520.36 L131.30,520.44 L132.39,520.52 L133.48,520.60 L134.57,520.69 L135.66,520.77 L136.75,520.85 L137.84,520.94 L138.93,521.02 L140.02,521.10 L141.11,521.18 L142.20,521.27 L143.29,521.35 L144.37,521.43 L145.46,521.52 L146.55,521.60 L147.64,521.69 L148.73,521.77 L149.82,521.85 L150.91,521.94 L152.00,522.02 L153.09,522.11 L154.18,522.19 L155.27,522.27 L156.36,522.36 L157.45,522.44 L158.53,522.53 L159.62,522.61 L160.71,522.70 L161.80,522.78 L162.89,522.87 L163.98,522.95 L165.07,523.04 L166.16,523.12 L167.25,523.21 L168.34,523.29 L169.43,523.38 L170.52,523.46 L171.61,523.55 L172.70,523.63 L173.78,523.72 L174.87,523.80 L175.96,523.89 L177.05,523.98 L178.14,524.06 L179.23,524.15 L180.32,524.23 L181.41,524.32 L182.50,524.40 L183.59,524.49 L184.68,524.57 L185.77,524.66 L186.86,524.75 L187.94,524.83 L189.03,524.92 L190.12,525.00 L191.21,525.09 L192.30,525.17 L193.39,525.26 L194.48,525.35 L195.57,525.43 L196.66,525.52 L197.75,525.60 L198.84,525.69 L199.93,525.77 L201.02,525.86 L202.11,525.94 L203.19,526.03 L204.28,526.11 L205.37,526.20 L206.46,526.29 L207.55,526.37 L208.64,526.46 L209.73,526.54 L210.82,526.63 L211.91,526.71 L213.00,526.79 L214.09,526.88 L215.18,526.96 L216.27,527.05 L217.35,527.13 L218.44,527.22 L219.53,527.30 L220.62,527.39 L221.71,527.47 L222.80,527.55 L223.89,527.64 L224.98,527.72 L226.07,527.80 L227.16,527.89 L228.25,527.97 L229.34,528.05 L230.43,528.13 L231.52,528.22 L232.60,528.30 L233.69,528.38 L234.78,528.46 L235.87,528.54 L236.96,528.63 L238.05,528.71 L239.14,528.79 L240.23,528.87 L241.32,528.95 L242.41,529.03 L243.50,529.11 L244.59,529.19 L245.68,529.27 L246.76,529.35 L247.85,529.43 L248.94,529.50 L250.03,529.58 L251.12,529.66 L252.21,529.74 L253.30,529.82 L254.39,529.89 L255.48,529.97 L256.57,530.05 L257.66,530.12 L258.75,530.20 L259.84,530.27 L260.93,530.35 L262.01,530.42 L263.10,530.50 L264.19,530.57 L265.28,530.64 L266.37,530.72 L267.46,530.79 L268.55,530.86 L269.64,530.93 L270.73,531.00 L271.82,531.07 L272.91,531.14 L274.00,531.21 L275.09,531.28 L276.17,531.35 L277.26,531.42 L278.35,531.49 L279.44,531.55 L280.53,531.62 L281.62,531.69 L282.71,531.75 L283.80,531.82 L284.89,531.88 L285.98,531.95 L287.07,532.01 L288.16,532.07 L289.25,532.13 L290.33,532.19 L291.42,532.25 L292.51,532.31 L293.60,532.37 L294.69,532.43 L295.78,532.49 L296.87,532.55 L297.96,532.60 L299.05,532.66 L300.14,532.72 L301.23,532.77 L302.32,532.82 L303.41,532.88 L304.50,532.93 L305.58,532.98 L306.67,533.03 L307.76,533.08 L308.85,533.13 L309.94,533.18 L311.03,533.23 L312.12,533.27 L313.21,533.32 L314.30,533.36 L315.39,533.41 L316.48,533.45 L317.57,533.49 L318.66,533.53 L319.74,533.57 L320.83,533.61 L321.92,533.65 L323.01,533.69 L324.10,533.72 L325.19,533.76 L326.28,533.79 L327.37,533.83 L328.46,533.86 L329.55,533.89 L330.64,533.92 L331.73,533.95 L332.82,533.98 L333.91,534.00 L334.99,534.03 L336.08,534.05 L337.17,534.08 L338.26,534.10 L339.35,534.12 L340.44,534.14 L341.53,534.16 L342.62,534.18 L343.71,534.19 L344.80,534.21 L345.89,534.22 L346.98,534.23 L348.07,534.25 L349.15,534.25 L350.24,534.26 L351.33,534.27 L352.42,534.28 L353.51,534.28 L354.60,534.28 L355.69,534.29 L356.78,534.29 L357.87,534.28 L358.96,534.28 L360.05,534.28 L361.14,534.27 L362.23,534.27 L363.32,534.26 L364.40,534.25 L365.49,534.24 L366.58,534.22 L367.67,534.21 L368.76,534.19 L369.85,534.17 L370.94,534.15 L372.03,534.13 L373.12,534.11 L374.21,534.09 L375.30,534.06 L376.39,534.03 L377.48,534.00 L378.56,533.97 L379.65,533.94 L380.74,533.90 L381.83,533.87 L382.92,533.83 L384.01,533.79 L385.10,533.75 L386.19,533.70 L387.28,533.66 L388.37,533.61 L389.46,533.56 L390.55,533.51 L391.64,533.46 L392.73,533.40 L393.81,533.34 L394.90,533.28 L395.99,533.22 L397.08,533.16 L398.17,533.09 L399.26,533.03 L400.35,532.96 L401.44,532.89 L402.53,532.81 L403.62,532.74 L404.71,532.66 L405.80,532.58 L406.89,532.50 L407.97,532.41 L409.06,532.33 L410.15,532.24 L411.24,532.15 L412.33,532.05 L413.42,531.96 L414.51,531.86 L415.60,531.76 L416.69,531.66 L417.78,531.55 L418.87,531.44 L419.96,531.33 L421.05,531.22 L422.14,531.11 L423.22,530.99 L424.31,530.87 L425.40,530.75 L426.49,530.63 L427.58,530.50 L428.67,530.37 L429.76,530.24 L430.85,530.10 L431.94,529.97 L433.03,529.83 L434.12,529.68 L435.21,529.54 L436.30,529.39 L437.38,529.24 L438.47,529.09 L439.56,528.93 L440.65,528.78 L441.74,528.61 L442.83,528.45 L443.92,528.28 L445.01,528.11 L446.10,527.94 L447.19,527.77 L448.28,527.59 L449.37,527.41 L450.46,527.22 L451.55,527.04 L452.63,526.85 L453.72,526.66 L454.81,526.46 L455.90,526.26 L456.99,526.06 L458.08,525.86 L459.17,525.65 L460.26,525.44 L461.35,525.23 L462.44,525.01 L463.53,524.79 L464.62,524.57 L465.71,524.34 L466.79,524.11 L467.88,523.88 L468.97,523.64 L470.06,523.40 L471.15,523.16 L472.24,522.92 L473.33,522.67 L474.42,522.42 L475.51,522.16 L476.60,521.91 L477.69,521.64 L478.78,521.38 L479.87,521.11 L480.96,520.84 L482.04,520.56 L483.13,520.29 L484.22,520.00 L485.31,519.72 L486.40,519.43 L487.49,519.14 L488.58,518.84 L489.67,518.55 L490.76,518.24 L491.85,517.94 L492.94,517.63 L494.03,517.31 L495.12,517.00 L496.20,516.68 L497.29,516.35 L498.38,516.03 L499.47,515.70 L500.56,515.36 L501.65,515.02 L502.74,514.68 L503.83,514.34 L504.92,513.99 L506.01,513.63 L507.10,513.28 L508.19,512.92 L509.28,512.55 L510.37,512.19 L511.45,511.81 L512.54,511.44 L513.63,511.06 L514.72,510.68 L515.81,510.29 L516.90,509.90 L517.99,509.51 L519.08,509.11 L520.17,508.71 L521.26,508.30 L522.35,507.89 L523.44,507.48 L524.53,507.06 L525.61,506.64 L526.70,506.21 L527.79,505.78 L528.88,505.35 L529.97,504.91 L531.06,504.47 L532.15,504.03 L533.24,503.58 L534.33,503.13 L535.42,502.67 L536.51,502.21 L537.60,501.75 L538.69,501.28 L539.78,500.80 L540.86,500.33 L541.95,499.85 L543.04,499.36 L544.13,498.87 L545.22,498.38 L546.31,497.88 L547.40,497.38 L548.49,496.88 L549.58,496.37 L550.67,495.85 L551.76,495.34 L552.85,494.82 L553.94,494.29 L555.02,493.76 L556.11,493.23 L557.20,492.69 L558.29,492.15 L559.38,491.60 L560.47,491.05 L561.56,490.50 L562.65,489.94 L563.74,489.38 L564.83,488.81 L565.92,488.24 L567.01,487.67 L568.10,487.09 L569.18,486.51 L570.27,485.92 L571.36,485.33 L572.45,484.73 L573.54,484.13 L574.63,483.53 L575.72,482.92 L576.81,482.31 L577.90,481.69 L578.99,481.07 L580.08,480.45 L581.17,479.82 L582.26,479.19 L583.35,478.55 L584.43,477.91 L585.52,477.27 L586.61,476.62 L587.70,475.97 L588.79,475.31 L589.88,474.65 L590.97,473.99 L592.06,473.32 L593.15,472.65 L594.24,471.97 L595.33,471.29 L596.42,470.60 L597.51,469.91 L598.59,469.22 L599.68,468.52 L600.77,467.82 L601.86,467.12 L602.95,466.41 L604.04,465.70 L605.13,464.98 L606.22,464.26 L607.31,463.53 L608.40,462.80 L609.49,462.07 L610.58,461.34 L611.67,460.59 L612.76,459.85 L613.84,459.10 L614.93,458.35 L616.02,457.59 L617.11,456.83 L618.20,456.07 L619.29,455.30 L620.38,454.53 L621.47,453.76 L622.56,452.98 L623.65,452.19 L624.74,451.41 L625.83,450.62 L626.92,449.82 L628.00,449.03 L629.09,448.22 L630.18,447.42 L631.27,446.61 L632.36,445.80 L633.45,444.98 L634.54,444.16 L635.63,443.34 L636.72,442.51 L637.81,441.68 L638.90,440.85 L639.99,440.01 L641.08,439.17 L642.17,438.33 L643.25,437.48 L644.34,436.63 L645.43,435.77 L646.52,434.91 L647.61,434.05 L648.70,433.19 L649.79,432.32 L650.88,431.45 L651.97,430.57 L653.06,429.69 L654.15,428.81 L655.24,427.93 L656.33,427.04 L657.41,426.15 L658.50,425.25 L659.59,424.35 L660.68,423.45 L661.77,422.55 L662.86,421.64 L663.95,420.73 L665.04,419.82 L666.13,418.90 L667.22,417.99 L668.31,417.06 L669.40,416.14 L670.49,415.21 L671.58,414.28 L672.66,413.35 L673.75,412.41 L674.84,411.47 L675.93,410.53 L677.02,409.58 L678.11,408.64 L679.20,407.69" stroke="#0000cc" stroke-width="3.50" stroke-linecap="round" stroke-linejoin="round" stroke-dasharray="5.2 5.95" fill="none"/>
<path d="M121.50,519.70 L122.59,519.80 L123.68,519.90 L124.77,519.99 L125.86,520.09 L126.95,520.19 L128.04,520.29 L129.12,520.39 L130.21,520.49 L131.30,520.59 L132.39,520.69 L133.48,520.79 L134.57,520.89 L135.66,520.98 L136.75,521.08 L137.84,521.18 L138.93,521.28 L140.02,521.39 L141.11,521.49 L142.20,521.59 L143.29,521.69 L144.37,521.79 L145.46,521.89 L146.55,521.99 L147.64,522.09 L148.73,522.19 L149.82,522.29 L150.91,522.39 L152.00,522.50 L153.09,522.60 L154.18,522.70 L155.27,522.80 L156.36,522.90 L157.45,523.01 L158.53,523.11 L159.62,523.21 L160.71,523.32 L161.80,523.42 L162.89,523.52 L163.98,523.62 L165.07,523.73 L166.16,523.83 L167.25,523.93 L168.34,524.04 L169.43,524.14 L170.52,524.25 L171.61,524.35 L172.70,524.45 L173.78,524.56 L174.87,524.66 L175.96,524.77 L177.05,524.87 L178.14,524.98 L179.23,525.08 L180.32,525.19 L181.41,525.29 L182.50,525.40 L183.59,525.50 L184.68,525.61 L185.77,525.71 L186.86,525.82 L187.94,525.92 L189.03,526.03 L190.12,526.13 L191.21,526.24 L192.30,526.35 L193.39,526.45 L194.48,526.56 L195.57,526.66 L196.66,526.77 L197.75,526.88 L198.84,526.98 L199.93,527.09 L201.02,527.20 L202.11,527.30 L203.19,527.41 L204.28,527.52 L205.37,527.62 L206.46,527.73 L207.55,527.84 L208.64,527.94 L209.73,528.05 L210.82,528.16 L211.91,528.27 L213.00,528.37 L214.09,528.48 L215.18,528.59 L216.27,528.70 L217.35,528.80 L218.44,528.91 L219.53,529.02 L220.62,529.12 L221.71,529.23 L222.80,529.34 L223.89,529.45 L224.98,529.55 L226.07,529.66 L227.16,529.77 L228.25,529.88 L229.34,529.98 L230.43,530.09 L231.52,530.20 L232.60,530.31 L233.69,530.41 L234.78,530.52 L235.87,530.63 L236.96,530.74 L238.05,530.84 L239.14,530.95 L240.23,531.06 L241.32,531.16 L242.41,531.27 L243.50,531.38 L244.59,531.49 L245.68,531.59 L246.76,531.70 L247.85,531.81 L248.94,531.91 L250.03,532.02 L251.12,532.13 L252.21,532.23 L253.30,532.34 L254.39,532.44 L255.48,532.55 L256.57,532.66 L257.66,532.76 L258.75,532.87 L259.84,532.97 L260.93,533.08 L262.01,533.19 L263.10,533.29 L264.19,533.40 L265.28,533.50 L266.37,533.61 L267.46,533.71 L268.55,533.82 L269.64,533.92 L270.73,534.02 L271.82,534.13 L272.91,534.23 L274.00,534.34 L275.09,534.44 L276.17,534.54 L277.26,534.64 L278.35,534.75 L279.44,534.85 L280.53,534.95 L281.62,535.05 L282.71,535.16 L283.80,535.26 L284.89,535.36 L285.98,535.46 L287.07,535.56 L288.16,535.66 L289.25,535.76 L290.33,535.86 L291.42,535.96 L292.51,536.06 L293.60,536.16 L294.69,536.26 L295.78,536.36 L296.87,536.46 L297.96,536.55 L299.05,536.65 L300.14,536.75 L301.23,536.85 L302.32,536.94 L303.41,537.04 L304.50,537.14 L305.58,537.23 L306.67,537.33 L307.76,537.42 L308.85,537.51 L309.94,537.61 L311.03,537.70 L312.12,537.79 L313.21,537.89 L314.30,537.98 L315.39,538.07 L316.48,538.16 L317.57,538.25 L318.66,538.34 L319.74,538.43 L320.83,538.52 L321.92,538.61 L323.01,538.70 L324.10,538.79 L325.19,538.88 L326.28,538.96 L327.37,539.05 L328.46,539.13 L329.55,539.22 L330.64,539.30 L331.73,539.39 L332.82,539.47 L333.91,539.55 L334.99,539.64 L336.08,539.72 L337.17,539.80 L338.26,539.88 L339.35,539.96 L340.44,540.04 L341.53,540.12 L342.62,540.20 L343.71,540.27 L344.80,540.35 L345.89,540.43 L346.98,540.50 L348.07,540.57 L349.15,540.65 L350.24,540.72 L351.33,540.79 L352.42,540.87 L353.51,540.94 L354.60,541.01 L355.69,541.08 L356.78,541.14 L357.87,541.21 L358.96,541.28 L360.05,541.34 L361.14,541.41 L362.23,541.47 L363.32,541.54 L364.40,541.60 L365.49,541.66 L366.58,541.72 L367.67,541.78 L368.76,541.84 L369.85,541.90 L370.94,541.96 L372.03,542.01 L373.12,542.07 L374.21,542.12 L375.30,542.18 L376.39,542.23 L377.48,542.28 L378.56,542.33 L379.65,542.38 L380.74,542.43 L381.83,542.48 L382.92,542.52 L384.01,542.57 L385.10,542.61 L386.19,542.65 L387.28,542.70 L388.37,542.74 L389.46,542.78 L390.55,542.81 L391.64,542.85 L392.73,542.89 L393.81,542.92 L394.90,542.96 L395.99,542.99 L397.08,543.02 L398.17,543.05 L399.26,543.08 L400.35,543.11 L401.44,543.14 L402.53,543.16 L403.62,543.18 L404.71,543.21 L405.80,543.23 L406.89,543.25 L407.97,543.27 L409.06,543.28 L410.15,543.30 L411.24,543.32 L412.33,543.33 L413.42,543.34 L414.51,543.35 L415.60,543.36 L416.69,543.37 L417.78,543.37 L418.87,543.38 L419.96,543.38 L421.05,543.38 L422.14,543.38 L423.22,543.38 L424.31,543.38 L425.40,543.37 L426.49,543.37 L427.58,543.36 L428.67,543.35 L429.76,543.34 L430.85,543.33 L431.94,543.31 L433.03,543.30 L434.12,543.28 L435.21,543.26 L436.30,543.24 L437.38,543.22 L438.47,543.19 L439.56,543.17 L440.65,543.14 L441.74,543.11 L442.83,543.08 L443.92,543.04 L445.01,543.01 L446.10,542.97 L447.19,542.93 L448.28,542.89 L449.37,542.85 L450.46,542.81 L451.55,542.76 L452.63,542.71 L453.72,542.66 L454.81,542.61 L455.90,542.56 L456.99,542.50 L458.08,542.44 L459.17,542.38 L460.26,542.32 L461.35,542.26 L462.44,542.19 L463.53,542.12 L464.62,542.05 L465.71,541.98 L466.79,541.91 L467.88,541.83 L468.97,541.75 L470.06,541.67 L471.15,541.59 L472.24,541.50 L473.33,541.41 L474.42,541.32 L475.51,541.23 L476.60,541.14 L477.69,541.04 L478.78,540.94 L479.87,540.84 L480.96,540.74 L482.04,540.63 L483.13,540.52 L484.22,540.41 L485.31,540.30 L486.40,540.19 L487.49,540.07 L488.58,539.95 L489.67,539.83 L490.76,539.70 L491.85,539.57 L492.94,539.44 L494.03,539.31 L495.12,539.18 L496.20,539.04 L497.29,538.90 L498.38,538.76 L499.47,538.61 L500.56,538.46 L501.65,538.31 L502.74,538.16 L503.83,538.00 L504.92,537.85 L506.01,537.68 L507.10,537.52 L508.19,537.35 L509.28,537.18 L510.37,537.01 L511.45,536.84 L512.54,536.66 L513.63,536.48 L514.72,536.30 L515.81,536.11 L516.90,535.92 L517.99,535.73 L519.08,535.54 L520.17,535.34 L521.26,535.14 L522.35,534.94 L523.44,534.73 L524.53,534.52 L525.61,534.31 L526.70,534.10 L527.79,533.88 L528.88,533.66 L529.97,533.43 L531.06,533.21 L532.15,532.98 L533.24,532.75 L534.33,532.51 L535.42,532.27 L536.51,532.03 L537.60,531.78 L538.69,531.54 L539.78,531.28 L540.86,531.03 L541.95,530.77 L543.04,530.51 L544.13,530.25 L545.22,529.98 L546.31,529.71 L547.40,529.44 L548.49,529.16 L549.58,528.88 L550.67,528.60 L551.76,528.31 L552.85,528.02 L553.94,527.73 L555.02,527.43 L556.11,527.13 L557.20,526.83 L558.29,526.52 L559.38,526.21 L560.47,525.90 L561.56,525.58 L562.65,525.26 L563.74,524.93 L564.83,524.61 L565.92,524.28 L567.01,523.94 L568.10,523.61 L569.18,523.26 L570.27,522.92 L571.36,522.57 L572.45,522.22 L573.54,521.87 L574.63,521.51 L575.72,521.15 L576.81,520.78 L577.90,520.41 L578.99,520.04 L580.08,519.66 L581.17,519.28 L582.26,518.90 L583.35,518.51 L584.43,518.12 L585.52,517.73 L586.61,517.33 L587.70,516.93 L588.79,516.52 L589.88,516.11 L590.97,515.70 L592.06,515.28 L593.15,514.86 L594.24,514.44 L595.33,514.01 L596.42,513.58 L597.51,513.15 L598.59,512.71 L599.68,512.27 L600.77,511.82 L601.86,511.37 L602.95,510.92 L604.04,510.46 L605.13,510.00 L606.22,509.54 L607.31,509.07 L608.40,508.59 L609.49,508.12 L610.58,507.64 L611.67,507.16 L612.76,506.67 L613.84,506.18 L614.93,505.68 L616.02,505.18 L617.11,504.68 L618.20,504.17 L619.29,503.66 L620.38,503.15 L621.47,502.63 L622.56,502.11 L623.65,501.58 L624.74,501.05 L625.83,500.52 L626.92,499.98 L628.00,499.44 L629.09,498.90 L630.18,498.35 L631.27,497.79 L632.36,497.24 L633.45,496.68 L634.54,496.11 L635.63,495.54 L636.72,494.97 L637.81,494.40 L638.90,493.82 L639.99,493.23 L641.08,492.65 L642.17,492.06 L643.25,491.46 L644.34,490.86 L645.43,490.26 L646.52,489.65 L647.61,489.04 L648.70,488.43 L649.79,487.81 L650.88,487.19 L651.97,486.56 L653.06,485.93 L654.15,485.30 L655.24,484.66 L656.33,484.02 L657.41,483.37 L658.50,482.72 L659.59,482.07 L660.68,481.41 L661.77,480.75 L662.86,480.09 L663.95,479.42 L665.04,478.75 L666.13,478.08 L667.22,477.40 L668.31,476.71 L669.40,476.03 L670.49,475.34 L671.58,474.64 L672.66,473.94 L673.75,473.24 L674.84,472.54 L675.93,471.83 L677.02,471.11 L678.11,470.40 L679.20,469.68" stroke="#0000cc" stroke-width="3.50" stroke-linecap="round" stroke-linejoin="round" stroke-dasharray="5.2 5.95" fill="none"/>
<path d="M121.50,519.70 L122.59,519.81 L123.68,519.92 L124.77,520.03 L125.86,520.14 L126.95,520.25 L128.04,520.36 L129.12,520.48 L130.21,520.59 L131.30,520.70 L132.39,520.81 L133.48,520.92 L134.57,521.03 L135.66,521.15 L136.75,521.26 L137.84,521.37 L138.93,521.49 L140.02,521.60 L141.11,521.71 L142.20,521.83 L143.29,521.94 L144.37,522.05 L145.46,522.17 L146.55,522.28 L147.64,522.40 L148.73,522.51 L149.82,522.62 L150.91,522.74 L152.00,522.85 L153.09,522.97 L154.18,523.09 L155.27,523.20 L156.36,523.32 L157.45,523.43 L158.53,523.55 L159.62,523.67 L160.71,523.78 L161.80,523.90 L162.89,524.02 L163.98,524.13 L165.07,524.25 L166.16,524.37 L167.25,524.48 L168.34,524.60 L169.43,524.72 L170.52,524.84 L171.61,524.96 L172.70,525.08 L173.78,525.19 L174.87,525.31 L175.96,525.43 L177.05,525.55 L178.14,525.67 L179.23,525.79 L180.32,525.91 L181.41,526.03 L182.50,526.15 L183.59,526.27 L184.68,526.39 L185.77,526.51 L186.86,526.63 L187.94,526.75 L189.03,526.87 L190.12,526.99 L191.21,527.12 L192.30,527.24 L193.39,527.36 L194.48,527.48 L195.57,527.60 L196.66,527.73 L197.75,527.85 L198.84,527.97 L199.93,528.09 L201.02,528.22 L202.11,528.34 L203.19,528.46 L204.28,528.59 L205.37,528.71 L206.46,528.83 L207.55,528.96 L208.64,529.08 L209.73,529.21 L210.82,529.33 L211.91,529.45 L213.00,529.58 L214.09,529.70 L215.18,529.83 L216.27,529.95 L217.35,530.08 L218.44,530.20 L219.53,530.33 L220.62,530.46 L221.71,530.58 L222.80,530.71 L223.89,530.83 L224.98,530.96 L226.07,531.09 L227.16,531.21 L228.25,531.34 L229.34,531.47 L230.43,531.59 L231.52,531.72 L232.60,531.85 L233.69,531.97 L234.78,532.10 L235.87,532.23 L236.96,532.36 L238.05,532.48 L239.14,532.61 L240.23,532.74 L241.32,532.87 L242.41,533.00 L243.50,533.12 L244.59,533.25 L245.68,533.38 L246.76,533.51 L247.85,533.64 L248.94,533.77 L250.03,533.90 L251.12,534.03 L252.21,534.15 L253.30,534.28 L254.39,534.41 L255.48,534.54 L256.57,534.67 L257.66,534.80 L258.75,534.93 L259.84,535.06 L260.93,535.19 L262.01,535.32 L263.10,535.45 L264.19,535.58 L265.28,535.71 L266.37,535.84 L267.46,535.97 L268.55,536.10 L269.64,536.23 L270.73,536.36 L271.82,536.49 L272.91,536.62 L274.00,536.76 L275.09,536.89 L276.17,537.02 L277.26,537.15 L278.35,537.28 L279.44,537.41 L280.53,537.54 L281.62,537.67 L282.71,537.80 L283.80,537.93 L284.89,538.06 L285.98,538.19 L287.07,538.33 L288.16,538.46 L289.25,538.59 L290.33,538.72 L291.42,538.85 L292.51,538.98 L293.60,539.11 L294.69,539.24 L295.78,539.37 L296.87,539.51 L297.96,539.64 L299.05,539.77 L300.14,539.90 L301.23,540.03 L302.32,540.16 L303.41,540.29 L304.50,540.42 L305.58,540.55 L306.67,540.68 L307.76,540.82 L308.85,540.95 L309.94,541.08 L311.03,541.21 L312.12,541.34 L313.21,541.47 L314.30,541.60 L315.39,541.73 L316.48,541.86 L317.57,541.99 L318.66,542.12 L319.74,542.25 L320.83,542.38 L321.92,542.51 L323.01,542.64 L324.10,542.77 L325.19,542.90 L326.28,543.03 L327.37,543.16 L328.46,543.29 L329.55,543.42 L330.64,543.55 L331.73,543.68 L332.82,543.81 L333.91,543.93 L334.99,544.06 L336.08,544.19 L337.17,544.32 L338.26,544.45 L339.35,544.58 L340.44,544.70 L341.53,544.83 L342.62,544.96 L343.71,545.09 L344.80,545.21 L345.89,545.34 L346.98,545.47 L348.07,545.59 L349.15,545.72 L350.24,545.85 L351.33,545.97 L352.42,546.10 L353.51,546.22 L354.60,546.35 L355.69,546.47 L356.78,546.60 L357.87,546.72 L358.96,546.85 L360.05,546.97 L361.14,547.09 L362.23,547.22 L363.32,547.34 L364.40,547.46 L365.49,547.59 L366.58,547.71 L367.67,547.83 L368.76,547.95 L369.85,548.08 L370.94,548.20 L372.03,548.32 L373.12,548.44 L374.21,548.56 L375.30,548.68 L376.39,548.80 L377.48,548.92 L378.56,549.04 L379.65,549.15 L380.74,549.27 L381.83,549.39 L382.92,549.51 L384.01,549.63 L385.10,549.74 L386.19,549.86 L387.28,549.97 L388.37,550.09 L389.46,550.21 L390.55,550.32 L391.64,550.43 L392.73,550.55 L393.81,550.66 L394.90,550.77 L395.99,550.89 L397.08,551.00 L398.17,551.11 L399.26,551.22 L400.35,551.33 L401.44,551.44 L402.53,551.55 L403.62,551.66 L404.71,551.77 L405.80,551.88 L406.89,551.99 L407.97,552.09 L409.06,552.20 L410.15,552.31 L411.24,552.41 L412.33,552.52 L413.42,552.62 L414.51,552.73 L415.60,552.83 L416.69,552.93 L417.78,553.03 L418.87,553.13 L419.96,553.24 L421.05,553.34 L422.14,553.44 L423.22,553.53 L424.31,553.63 L425.40,553.73 L426.49,553.83 L427.58,553.92 L428.67,554.02 L429.76,554.11 L430.85,554.21 L431.94,554.30 L433.03,554.40 L434.12,554.49 L435.21,554.58 L436.30,554.67 L437.38,554.76 L438.47,554.85 L439.56,554.94 L440.65,555.03 L441.74,555.11 L442.83,555.20 L443.92,555.28 L445.01,555.37 L446.10,555.45 L447.19,555.53 L448.28,555.62 L449.37,555.70 L450.46,555.78 L451.55,555.86 L452.63,555.94 L453.72,556.01 L454.81,556.09 L455.90,556.17 L456.99,556.24 L458.08,556.32 L459.17,556.39 L460.26,556.46 L461.35,556.53 L462.44,556.61 L463.53,556.67 L464.62,556.74 L465.71,556.81 L466.79,556.88 L467.88,556.94 L468.97,557.01 L470.06,557.07 L471.15,557.13 L472.24,557.20 L473.33,557.26 L474.42,557.32 L475.51,557.37 L476.60,557.43 L477.69,557.49 L478.78,557.54 L479.87,557.60 L480.96,557.65 L482.04,557.70 L483.13,557.75 L484.22,557.80 L485.31,557.85 L486.40,557.90 L487.49,557.94 L488.58,557.99 L489.67,558.03 L490.76,558.07 L491.85,558.11 L492.94,558.15 L494.03,558.19 L495.12,558.23 L496.20,558.27 L497.29,558.30 L498.38,558.33 L499.47,558.37 L500.56,558.40 L501.65,558.43 L502.74,558.45 L503.83,558.48 L504.92,558.51 L506.01,558.53 L507.10,558.55 L508.19,558.57 L509.28,558.59 L510.37,558.61 L511.45,558.63 L512.54,558.65 L513.63,558.66 L514.72,558.67 L515.81,558.68 L516.90,558.69 L517.99,558.70 L519.08,558.71 L520.17,558.71 L521.26,558.72 L522.35,558.72 L523.44,558.72 L524.53,558.72 L525.61,558.72 L526.70,558.71 L527.79,558.71 L528.88,558.70 L529.97,558.69 L531.06,558.68 L532.15,558.67 L533.24,558.65 L534.33,558.64 L535.42,558.62 L536.51,558.60 L537.60,558.58 L538.69,558.56 L539.78,558.53 L540.86,558.51 L541.95,558.48 L543.04,558.45 L544.13,558.42 L545.22,558.38 L546.31,558.35 L547.40,558.31 L548.49,558.27 L549.58,558.23 L550.67,558.19 L551.76,558.15 L552.85,558.10 L553.94,558.05 L555.02,558.00 L556.11,557.95 L557.20,557.89 L558.29,557.84 L559.38,557.78 L560.47,557.72 L561.56,557.66 L562.65,557.59 L563.74,557.53 L564.83,557.46 L565.92,557.39 L567.01,557.32 L568.10,557.24 L569.18,557.17 L570.27,557.09 L571.36,557.01 L572.45,556.93 L573.54,556.84 L574.63,556.75 L575.72,556.67 L576.81,556.57 L577.90,556.48 L578.99,556.38 L580.08,556.29 L581.17,556.19 L582.26,556.08 L583.35,555.98 L584.43,555.87 L585.52,555.76 L586.61,555.65 L587.70,555.54 L588.79,555.42 L589.88,555.30 L590.97,555.18 L592.06,555.06 L593.15,554.93 L594.24,554.80 L595.33,554.67 L596.42,554.54 L597.51,554.41 L598.59,554.27 L599.68,554.13 L600.77,553.98 L601.86,553.84 L602.95,553.69 L604.04,553.54 L605.13,553.39 L606.22,553.23 L607.31,553.07 L608.40,552.91 L609.49,552.75 L610.58,552.59 L611.67,552.42 L612.76,552.25 L613.84,552.07 L614.93,551.90 L616.02,551.72 L617.11,551.54 L618.20,551.35 L619.29,551.17 L620.38,550.98 L621.47,550.78 L622.56,550.59 L623.65,550.39 L624.74,550.19 L625.83,549.99 L626.92,549.78 L628.00,549.57 L629.09,549.36 L630.18,549.15 L631.27,548.93 L632.36,548.71 L633.45,548.49 L634.54,548.26 L635.63,548.03 L636.72,547.80 L637.81,547.57 L638.90,547.33 L639.99,547.09 L641.08,546.84 L642.17,546.60 L643.25,546.35 L644.34,546.10 L645.43,545.84 L646.52,545.58 L647.61,545.32 L648.70,545.06 L649.79,544.79 L650.88,544.52 L651.97,544.25 L653.06,543.97 L654.15,543.69 L655.24,543.41 L656.33,543.12 L657.41,542.83 L658.50,542.54 L659.59,542.25 L660.68,541.95 L661.77,541.65 L662.86,541.34 L663.95,541.04 L665.04,540.73 L666.13,540.41 L667.22,540.09 L668.31,539.77 L669.40,539.45 L670.49,539.12 L671.58,538.79 L672.66,538.46 L673.75,538.12 L674.84,537.78 L675.93,537.44 L677.02,537.09 L678.11,536.74 L679.20,536.39" stroke="#0000cc" stroke-width="3.50" stroke-linecap="round" stroke-linejoin="round" stroke-dasharray="5.2 5.95" fill="none"/>
<path d="M121.50,519.70 L122.59,519.70 L123.68,519.70 L124.77,519.70 L125.86,519.70 L126.95,519.70 L128.04,519.70 L129.12,519.70 L130.21,519.70 L131.30,519.70 L132.39,519.70 L133.48,519.70 L134.57,519.70 L135.66,519.70 L136.75,519.70 L137.84,519.70 L138.93,519.70 L140.02,519.70 L141.11,519.70 L142.20,519.70 L143.29,519.70 L144.37,519.70 L145.46,519.70 L146.55,519.70 L147.64,519.70 L148.73,519.70 L149.82,519.70 L150.91,519.70 L152.00,519.70 L153.09,519.70 L154.18,519.69 L155.27,519.69 L156.36,519.69 L157.45,519.69 L158.53,519.69 L159.62,519.69 L160.71,519.69 L161.80,519.69 L162.89,519.69 L163.98,519.68 L165.07,519.68 L166.16,519.68 L167.25,519.68 L168.34,519.68 L169.43,519.68 L170.52,519.67 L171.61,519.67 L172.70,519.67 L173.78,519.67 L174.87,519.66 L175.96,519.66 L177.05,519.66 L178.14,519.65 L179.23,519.65 L180.32,519.64 L181.41,519.64 L182.50,519.64 L183.59,519.63 L184.68,519.63 L185.77,519.62 L186.86,519.61 L187.94,519.61 L189.03,519.60 L190.12,519.60 L191.21,519.59 L192.30,519.58 L193.39,519.58 L194.48,519.57 L195.57,519.56 L196.66,519.55 L197.75,519.54 L198.84,519.53 L199.93,519.52 L201.02,519.51 L202.11,519.50 L203.19,519.49 L204.28,519.48 L205.37,519.47 L206.46,519.46 L207.55,519.44 L208.64,519.43 L209.73,519.42 L210.82,519.40 L211.91,519.39 L213.00,519.37 L214.09,519.36 L215.18,519.34 L216.27,519.32 L217.35,519.31 L218.44,519.29 L219.53,519.27 L220.62,519.25 L221.71,519.23 L222.80,519.21 L223.89,519.19 L224.98,519.17 L226.07,519.14 L227.16,519.12 L228.25,519.09 L229.34,519.07 L230.43,519.04 L231.52,519.02 L232.60,518.99 L233.69,518.96 L234.78,518.93 L235.87,518.90 L236.96,518.87 L238.05,518.84 L239.14,518.81 L240.23,518.77 L241.32,518.74 L242.41,518.70 L243.50,518.67 L244.59,518.63 L245.68,518.59 L246.76,518.55 L247.85,518.51 L248.94,518.47 L250.03,518.43 L251.12,518.39 L252.21,518.34 L253.30,518.30 L254.39,518.25 L255.48,518.20 L256.57,518.15 L257.66,518.10 L258.75,518.05 L259.84,518.00 L260.93,517.94 L262.01,517.89 L263.10,517.83 L264.19,517.77 L265.28,517.71 L266.37,517.65 L267.46,517.59 L268.55,517.53 L269.64,517.46 L270.73,517.40 L271.82,517.33 L272.91,517.26 L274.00,517.19 L275.09,517.12 L276.17,517.04 L277.26,516.97 L278.35,516.89 L279.44,516.81 L280.53,516.73 L281.62,516.65 L282.71,516.57 L283.80,516.48 L284.89,516.39 L285.98,516.31 L287.07,516.22 L288.16,516.12 L289.25,516.03 L290.33,515.93 L291.42,515.84 L292.51,515.74 L293.60,515.64 L294.69,515.53 L295.78,515.43 L296.87,515.32 L297.96,515.21 L299.05,515.10 L300.14,514.99 L301.23,514.87 L302.32,514.76 L303.41,514.64 L304.50,514.52 L305.58,514.39 L306.67,514.27 L307.76,514.14 L308.85,514.01 L309.94,513.88 L311.03,513.74 L312.12,513.61 L313.21,513.47 L314.30,513.33 L315.39,513.18 L316.48,513.04 L317.57,512.89 L318.66,512.74 L319.74,512.59 L320.83,512.43 L321.92,512.27 L323.01,512.11 L324.10,511.95 L325.19,511.78 L326.28,511.61 L327.37,511.44 L328.46,511.27 L329.55,511.09 L330.64,510.92 L331.73,510.73 L332.82,510.55 L333.91,510.36 L334.99,510.17 L336.08,509.98 L337.17,509.79 L338.26,509.59 L339.35,509.39 L340.44,509.18 L341.53,508.98 L342.62,508.77 L343.71,508.55 L344.80,508.34 L345.89,508.12 L346.98,507.90 L348.07,507.67 L349.15,507.44 L350.24,507.21 L351.33,506.98 L352.42,506.74 L353.51,506.50 L354.60,506.26 L355.69,506.01 L356.78,505.76 L357.87,505.51 L358.96,505.25 L360.05,504.99 L361.14,504.73 L362.23,504.46 L363.32,504.19 L364.40,503.92 L365.49,503.64 L366.58,503.36 L367.67,503.08 L368.76,502.79 L369.85,502.50 L370.94,502.21 L372.03,501.91 L373.12,501.61 L374.21,501.30 L375.30,500.99 L376.39,500.68 L377.48,500.36 L378.56,500.05 L379.65,499.72 L380.74,499.40 L381.83,499.06 L382.92,498.73 L384.01,498.39 L385.10,498.05 L386.19,497.70 L387.28,497.35 L388.37,497.00 L389.46,496.64 L390.55,496.28 L391.64,495.92 L392.73,495.55 L393.81,495.17 L394.90,494.80 L395.99,494.42 L397.08,494.03 L398.17,493.64 L399.26,493.25 L400.35,492.85 L401.44,492.45 L402.53,492.04 L403.62,491.63 L404.71,491.22 L405.80,490.80 L406.89,490.38 L407.97,489.96 L409.06,489.52 L410.15,489.09 L411.24,488.65 L412.33,488.21 L413.42,487.76 L414.51,487.31 L415.60,486.85 L416.69,486.39 L417.78,485.93 L418.87,485.46 L419.96,484.99 L421.05,484.51 L422.14,484.03 L423.22,483.54 L424.31,483.05 L425.40,482.56 L426.49,482.06 L427.58,481.55 L428.67,481.05 L429.76,480.53 L430.85,480.02 L431.94,479.50 L433.03,478.97 L434.12,478.44 L435.21,477.91 L436.30,477.37 L437.38,476.82 L438.47,476.27 L439.56,475.72 L440.65,475.16 L441.74,474.60 L442.83,474.04 L443.92,473.47 L445.01,472.89 L446.10,472.31 L447.19,471.73 L448.28,471.14 L449.37,470.54 L450.46,469.95 L451.55,469.34 L452.63,468.74 L453.72,468.13 L454.81,467.51 L455.90,466.89 L456.99,466.26 L458.08,465.63 L459.17,465.00 L460.26,464.36 L461.35,463.72 L462.44,463.07 L463.53,462.42 L464.62,461.76 L465.71,461.10 L466.79,460.43 L467.88,459.76 L468.97,459.09 L470.06,458.41 L471.15,457.72 L472.24,457.03 L473.33,456.34 L474.42,455.64 L475.51,454.94 L476.60,454.24 L477.69,453.52 L478.78,452.81 L479.87,452.09 L480.96,451.36 L482.04,450.64 L483.13,449.90 L484.22,449.16 L485.31,448.42 L486.40,447.68 L487.49,446.92 L488.58,446.17 L489.67,445.41 L490.76,444.64 L491.85,443.88 L492.94,443.10 L494.03,442.33 L495.12,441.54 L496.20,440.76 L497.29,439.97 L498.38,439.17 L499.47,438.38 L500.56,437.57 L501.65,436.77 L502.74,435.96 L503.83,435.14 L504.92,434.32 L506.01,433.50 L507.10,432.67 L508.19,431.84 L509.28,431.00 L510.37,430.16 L511.45,429.32 L512.54,428.47 L513.63,427.62 L514.72,426.76 L515.81,425.90 L516.90,425.04 L517.99,424.17 L519.08,423.30 L520.17,422.42 L521.26,421.54 L522.35,420.66 L523.44,419.77 L524.53,418.88 L525.61,417.99 L526.70,417.09 L527.79,416.19 L528.88,415.28 L529.97,414.37 L531.06,413.46 L532.15,412.54 L533.24,411.62 L534.33,410.70 L535.42,409.77 L536.51,408.84 L537.60,407.91 L538.69,406.97 L539.78,406.03 L540.86,405.08 L541.95,404.14 L543.04,403.19 L544.13,402.23 L545.22,401.27 L546.31,400.31 L547.40,399.35 L548.49,398.38 L549.58,397.41 L550.67,396.44 L551.76,395.46 L552.85,394.49 L553.94,393.50 L555.02,392.52 L556.11,391.53 L557.20,390.54 L558.29,389.55 L559.38,388.55 L560.47,387.55 L561.56,386.55 L562.65,385.54 L563.74,384.54 L564.83,383.53 L565.92,382.51 L567.01,381.50 L568.10,380.48 L569.18,379.46 L570.27,378.44 L571.36,377.41 L572.45,376.39 L573.54,375.36 L574.63,374.32 L575.72,373.29 L576.81,372.25 L577.90,371.22 L578.99,370.17 L580.08,369.13 L581.17,368.09 L582.26,367.04 L583.35,365.99 L584.43,364.94 L585.52,363.89 L586.61,362.83 L587.70,361.77 L588.79,360.72 L589.88,359.66 L590.97,358.59 L592.06,357.53 L593.15,356.46 L594.24,355.40 L595.33,354.33 L596.42,353.26 L597.51,352.19 L598.59,351.11 L599.68,350.04 L600.77,348.96 L601.86,347.89 L602.95,346.81 L604.04,345.73 L605.13,344.65 L606.22,343.57 L607.31,342.48 L608.40,341.40 L609.49,340.31 L610.58,339.23 L611.67,338.14 L612.76,337.05 L613.84,335.96 L614.93,334.87 L616.02,333.78 L617.11,332.69 L618.20,331.59 L619.29,330.50 L620.38,329.41 L621.47,328.31 L622.56,327.22 L623.65,326.12 L624.74,325.02 L625.83,323.93 L626.92,322.83 L628.00,321.73 L629.09,320.63 L630.18,319.54 L631.27,318.44 L632.36,317.34 L633.45,316.24 L634.54,315.14 L635.63,314.04 L636.72,312.94 L637.81,311.84 L638.90,310.74 L639.99,309.64 L641.08,308.54 L642.17,307.44 L643.25,306.34 L644.34,305.24 L645.43,304.14 L646.52,303.05 L647.61,301.95 L648.70,300.85 L649.79,299.75 L650.88,298.65 L651.97,297.55 L653.06,296.46 L654.15,295.36 L655.24,294.27 L656.33,293.17 L657.41,292.08 L658.50,290.98 L659.59,289.89 L660.68,288.79 L661.77,287.70 L662.86,286.61 L663.95,285.52 L665.04,284.43 L666.13,283.34 L667.22,282.25 L668.31,281.16 L669.40,280.08 L670.49,278.99 L671.58,277.91 L672.66,276.82 L673.75,275.74 L674.84,274.66 L675.93,273.58 L677.02,272.50 L678.11,271.42 L679.20,270.35" stroke="#00a000" stroke-width="4.5" stroke-linecap="round" stroke-linejoin="round" fill="none"/>
<g opacity="0.999">
<text x="121.50" y="630.4" font-size="36" text-anchor="middle">0</text>
<text x="307.40" y="630.4" font-size="36" text-anchor="middle">1</text>
<text x="493.30" y="630.4" font-size="36" text-anchor="middle">2</text>
<text x="679.20" y="630.4" font-size="36" text-anchor="middle">3</text>
<text x="108.1" y="536.4" font-size="36" text-anchor="end">0</text>
<text x="108.0" y="395.00" font-size="34" font-style="italic" text-anchor="end">p</text>
<text x="108.0" y="255.70" font-size="34" font-style="italic" text-anchor="end">2p</text>
<text x="108.0" y="116.40" font-size="34" font-style="italic" text-anchor="end">3p</text>
<text x="381.5" y="682.9" font-size="34.5" font-style="italic">T<tspan font-size="24" dy="-17" dx="6.4">p</tspan></text>
<text transform="translate(39.0,603) rotate(-90)" font-size="34" xml:space="preserve">Logarithmic derivative  <tspan font-style="italic">w</tspan> = d ln <tspan font-family="Liberation Sans, sans-serif" font-size="32.5" stroke="#000" stroke-width="0.5" dx="-0.6">σ</tspan>  <tspan font-size="35" stroke="#000" stroke-width="0.4" dx="0">/</tspan> d ln <tspan font-style="italic" dx="1">T</tspan></text>
</g>
</svg>
</body></html>
